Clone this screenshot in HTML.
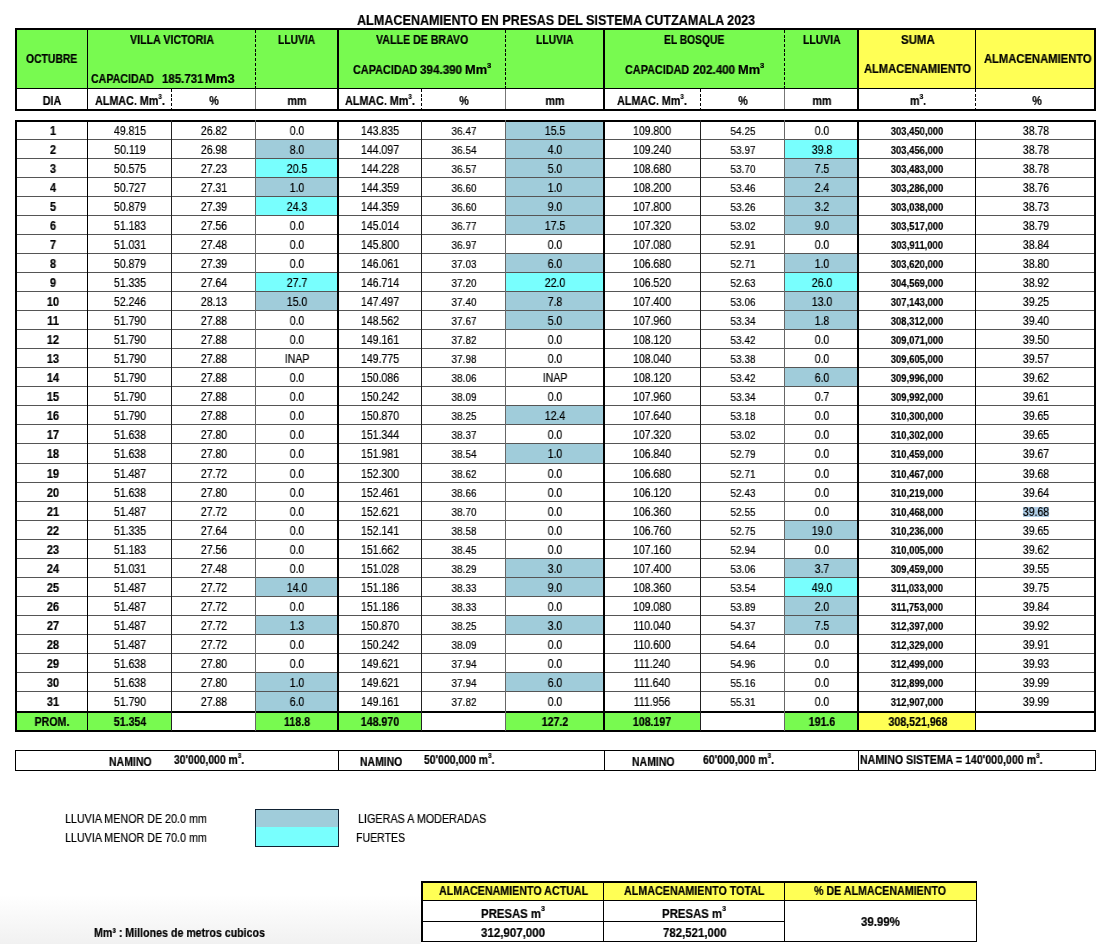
<!DOCTYPE html>
<html><head><meta charset="utf-8"><style>
html,body{margin:0;padding:0;}
body{width:1120px;height:944px;position:relative;overflow:hidden;background:#fff;font-family:"Liberation Sans",sans-serif;}
.bg{position:absolute;left:0;top:895px;width:421px;height:49px;background:linear-gradient(to bottom,#fff 0%,#f1f1f1 100%);}
.b{position:absolute;}
.t{position:absolute;white-space:nowrap;line-height:1;will-change:transform;-webkit-text-stroke:0.2px #000;}
sup{font-size:60%;vertical-align:0;position:relative;top:-0.85em;}
</style></head><body>
<div class="bg"></div>
<div class="t " style="left:357.3px;top:12.00px;font-size:15.0px;font-weight:bold;transform:scaleX(0.8397);transform-origin:left top;color:#000;">ALMACENAMIENTO EN PRESAS DEL SISTEMA CUTZAMALA 2023</div>
<div class="b" style="left:16px;top:30px;width:1078px;height:58px;background:#78FA50;"></div>
<div class="b" style="left:858px;top:30px;width:236px;height:58px;background:#FFFF55;"></div>
<div class="b" style="left:15px;top:28px;width:1081px;height:2px;background:#000;"></div>
<div class="b" style="left:15px;top:88px;width:1081px;height:1px;background:#000;"></div>
<div class="b" style="left:15px;top:109px;width:1081px;height:2px;background:#000;"></div>
<div class="b" style="left:15px;top:28px;width:2px;height:83px;background:#000;"></div>
<div class="b" style="left:1094px;top:28px;width:2px;height:83px;background:#000;"></div>
<div class="b" style="left:87px;top:28px;width:1px;height:83px;background:#000;"></div>
<div class="b" style="left:975px;top:28px;width:1px;height:61px;background:#000;"></div>
<div class="b" style="left:337px;top:28px;width:2px;height:83px;background:#000;"></div>
<div class="b" style="left:603px;top:28px;width:2px;height:83px;background:#000;"></div>
<div class="b" style="left:857px;top:28px;width:2px;height:83px;background:#000;"></div>
<div class="b" style="left:255px;top:30px;width:1px;height:58px;background:repeating-linear-gradient(to bottom,#000 0 3px,transparent 3px 4.7px)"></div>
<div class="b" style="left:505px;top:30px;width:1px;height:58px;background:repeating-linear-gradient(to bottom,#000 0 3px,transparent 3px 4.7px)"></div>
<div class="b" style="left:784px;top:30px;width:1px;height:58px;background:repeating-linear-gradient(to bottom,#000 0 3px,transparent 3px 4.7px)"></div>
<div class="b" style="left:171px;top:89px;width:1px;height:20px;background:repeating-linear-gradient(to bottom,#000 0 3px,transparent 3px 4.7px)"></div>
<div class="b" style="left:421px;top:89px;width:1px;height:20px;background:repeating-linear-gradient(to bottom,#000 0 3px,transparent 3px 4.7px)"></div>
<div class="b" style="left:700px;top:89px;width:1px;height:20px;background:repeating-linear-gradient(to bottom,#000 0 3px,transparent 3px 4.7px)"></div>
<div class="b" style="left:975px;top:89px;width:1px;height:20px;background:repeating-linear-gradient(to bottom,#000 0 3px,transparent 3px 4.7px)"></div>
<div class="b" style="left:255px;top:89px;width:1px;height:20px;background:#777;"></div>
<div class="b" style="left:505px;top:89px;width:1px;height:20px;background:#777;"></div>
<div class="b" style="left:784px;top:89px;width:1px;height:20px;background:#777;"></div>
<div class="t " style="left:26.2px;top:54.00px;font-size:11.9px;font-weight:bold;transform:scaleX(0.872);transform-origin:left top;color:#000;">OCTUBRE</div>
<div class="t " style="left:129.9px;top:35.00px;font-size:11.9px;font-weight:bold;transform:scaleX(0.8958);transform-origin:left top;color:#000;">VILLA VICTORIA</div>
<div class="t " style="left:91.2px;top:74.00px;font-size:11.9px;font-weight:bold;transform:scaleX(0.8934);transform-origin:left top;color:#000;">CAPACIDAD</div>
<div class="t " style="left:161.8px;top:74.00px;font-size:11.9px;font-weight:bold;transform:scaleX(0.9647);transform-origin:left top;color:#000;">185.731</div>
<div class="t " style="left:205.4px;top:74.00px;font-size:11.9px;font-weight:bold;transform:scaleX(1.0993);transform-origin:left top;color:#000;">Mm3</div>
<div class="t " style="left:278.4px;top:35.00px;font-size:11.9px;font-weight:bold;transform:scaleX(0.8657);transform-origin:left top;color:#000;">LLUVIA</div>
<div class="t " style="left:375.8px;top:35.00px;font-size:11.9px;font-weight:bold;transform:scaleX(0.8939);transform-origin:left top;color:#000;">VALLE DE BRAVO</div>
<div class="t " style="left:352.6px;top:65.00px;font-size:11.9px;font-weight:bold;transform:scaleX(0.9132);transform-origin:left top;color:#000;">CAPACIDAD</div>
<div class="t " style="left:420.4px;top:65.00px;font-size:11.9px;font-weight:bold;transform:scaleX(0.981);transform-origin:left top;color:#000;">394.390</div>
<div class="t " style="left:465.4px;top:65.00px;font-size:11.9px;font-weight:bold;transform:scaleX(1.0785);transform-origin:left top;color:#000;">Mm<sup>3</sup></div>
<div class="t " style="left:536.2px;top:35.00px;font-size:11.9px;font-weight:bold;transform:scaleX(0.8727);transform-origin:left top;color:#000;">LLUVIA</div>
<div class="t " style="left:664.2px;top:35.00px;font-size:11.9px;font-weight:bold;transform:scaleX(0.8629);transform-origin:left top;color:#000;">EL BOSQUE</div>
<div class="t " style="left:624.7px;top:65.00px;font-size:11.9px;font-weight:bold;transform:scaleX(0.9118);transform-origin:left top;color:#000;">CAPACIDAD</div>
<div class="t " style="left:692.5px;top:65.00px;font-size:11.9px;font-weight:bold;transform:scaleX(0.981);transform-origin:left top;color:#000;">202.400</div>
<div class="t " style="left:737.5px;top:65.00px;font-size:11.9px;font-weight:bold;transform:scaleX(1.0785);transform-origin:left top;color:#000;">Mm<sup>3</sup></div>
<div class="t " style="left:802.9px;top:35.00px;font-size:11.9px;font-weight:bold;transform:scaleX(0.8773);transform-origin:left top;color:#000;">LLUVIA</div>
<div class="t " style="left:900.6px;top:35.00px;font-size:11.9px;font-weight:bold;transform:scaleX(0.9619);transform-origin:left top;color:#000;">SUMA</div>
<div class="t " style="left:863.7px;top:64.00px;font-size:11.9px;font-weight:bold;transform:scaleX(0.9392);transform-origin:left top;color:#000;">ALMACENAMIENTO</div>
<div class="t " style="left:983.7px;top:54.00px;font-size:11.9px;font-weight:bold;transform:scaleX(0.9435);transform-origin:left top;color:#000;">ALMACENAMIENTO</div>
<div class="t " style="left:52.2px;top:95.00px;font-size:12.5px;font-weight:bold;transform:translateX(-50%) scaleX(0.86);transform-origin:center top;color:#000;">DIA</div>
<div class="t " style="left:130px;top:95.00px;font-size:12.5px;font-weight:bold;transform:translateX(-50%) scaleX(0.86);transform-origin:center top;color:#000;">ALMAC. Mm<sup>3</sup>.</div>
<div class="t " style="left:213.5px;top:95.00px;font-size:12.5px;font-weight:bold;transform:translateX(-50%) scaleX(0.86);transform-origin:center top;color:#000;">%</div>
<div class="t " style="left:296.5px;top:95.00px;font-size:12.5px;font-weight:bold;transform:translateX(-50%) scaleX(0.86);transform-origin:center top;color:#000;">mm</div>
<div class="t " style="left:380px;top:95.00px;font-size:12.5px;font-weight:bold;transform:translateX(-50%) scaleX(0.86);transform-origin:center top;color:#000;">ALMAC. Mm<sup>3</sup>.</div>
<div class="t " style="left:463.5px;top:95.00px;font-size:12.5px;font-weight:bold;transform:translateX(-50%) scaleX(0.86);transform-origin:center top;color:#000;">%</div>
<div class="t " style="left:555px;top:95.00px;font-size:12.5px;font-weight:bold;transform:translateX(-50%) scaleX(0.86);transform-origin:center top;color:#000;">mm</div>
<div class="t " style="left:652px;top:95.00px;font-size:12.5px;font-weight:bold;transform:translateX(-50%) scaleX(0.86);transform-origin:center top;color:#000;">ALMAC. Mm<sup>3</sup>.</div>
<div class="t " style="left:742.5px;top:95.00px;font-size:12.5px;font-weight:bold;transform:translateX(-50%) scaleX(0.86);transform-origin:center top;color:#000;">%</div>
<div class="t " style="left:821.5px;top:95.00px;font-size:12.5px;font-weight:bold;transform:translateX(-50%) scaleX(0.86);transform-origin:center top;color:#000;">mm</div>
<div class="t " style="left:917.5px;top:95.00px;font-size:12.5px;font-weight:bold;transform:translateX(-50%) scaleX(0.86);transform-origin:center top;color:#000;">m<sup>3</sup>.</div>
<div class="t " style="left:1036.5px;top:95.00px;font-size:12.5px;font-weight:bold;transform:translateX(-50%) scaleX(0.86);transform-origin:center top;color:#000;">%</div>
<div class="b" style="left:505px;top:120px;width:98px;height:19px;background:#A0CCDA;"></div>
<div class="b" style="left:255px;top:139px;width:83px;height:19px;background:#A0CCDA;"></div>
<div class="b" style="left:505px;top:139px;width:98px;height:19px;background:#A0CCDA;"></div>
<div class="b" style="left:784px;top:139px;width:74px;height:19px;background:#78FFFE;"></div>
<div class="b" style="left:255px;top:158px;width:83px;height:19px;background:#78FFFE;"></div>
<div class="b" style="left:505px;top:158px;width:98px;height:19px;background:#A0CCDA;"></div>
<div class="b" style="left:784px;top:158px;width:74px;height:19px;background:#A0CCDA;"></div>
<div class="b" style="left:255px;top:177px;width:83px;height:19px;background:#A0CCDA;"></div>
<div class="b" style="left:505px;top:177px;width:98px;height:19px;background:#A0CCDA;"></div>
<div class="b" style="left:784px;top:177px;width:74px;height:19px;background:#A0CCDA;"></div>
<div class="b" style="left:255px;top:196px;width:83px;height:19px;background:#78FFFE;"></div>
<div class="b" style="left:505px;top:196px;width:98px;height:19px;background:#A0CCDA;"></div>
<div class="b" style="left:784px;top:196px;width:74px;height:19px;background:#A0CCDA;"></div>
<div class="b" style="left:505px;top:215px;width:98px;height:19px;background:#A0CCDA;"></div>
<div class="b" style="left:784px;top:215px;width:74px;height:19px;background:#A0CCDA;"></div>
<div class="b" style="left:505px;top:253px;width:98px;height:19px;background:#A0CCDA;"></div>
<div class="b" style="left:784px;top:253px;width:74px;height:19px;background:#A0CCDA;"></div>
<div class="b" style="left:255px;top:272px;width:83px;height:19px;background:#78FFFE;"></div>
<div class="b" style="left:505px;top:272px;width:98px;height:19px;background:#78FFFE;"></div>
<div class="b" style="left:784px;top:272px;width:74px;height:19px;background:#78FFFE;"></div>
<div class="b" style="left:255px;top:291px;width:83px;height:19px;background:#A0CCDA;"></div>
<div class="b" style="left:505px;top:291px;width:98px;height:19px;background:#A0CCDA;"></div>
<div class="b" style="left:784px;top:291px;width:74px;height:19px;background:#A0CCDA;"></div>
<div class="b" style="left:505px;top:310px;width:98px;height:19px;background:#A0CCDA;"></div>
<div class="b" style="left:784px;top:310px;width:74px;height:19px;background:#A0CCDA;"></div>
<div class="b" style="left:784px;top:367px;width:74px;height:19px;background:#A0CCDA;"></div>
<div class="b" style="left:505px;top:405px;width:98px;height:19px;background:#A0CCDA;"></div>
<div class="b" style="left:505px;top:443px;width:98px;height:20px;background:#A0CCDA;"></div>
<div class="b" style="left:784px;top:520px;width:74px;height:19px;background:#A0CCDA;"></div>
<div class="b" style="left:505px;top:558px;width:98px;height:19px;background:#A0CCDA;"></div>
<div class="b" style="left:784px;top:558px;width:74px;height:19px;background:#A0CCDA;"></div>
<div class="b" style="left:255px;top:577px;width:83px;height:19px;background:#A0CCDA;"></div>
<div class="b" style="left:505px;top:577px;width:98px;height:19px;background:#A0CCDA;"></div>
<div class="b" style="left:784px;top:577px;width:74px;height:19px;background:#78FFFE;"></div>
<div class="b" style="left:784px;top:596px;width:74px;height:19px;background:#A0CCDA;"></div>
<div class="b" style="left:255px;top:615px;width:83px;height:19px;background:#A0CCDA;"></div>
<div class="b" style="left:505px;top:615px;width:98px;height:19px;background:#A0CCDA;"></div>
<div class="b" style="left:784px;top:615px;width:74px;height:19px;background:#A0CCDA;"></div>
<div class="b" style="left:255px;top:672px;width:83px;height:19px;background:#A0CCDA;"></div>
<div class="b" style="left:505px;top:672px;width:98px;height:19px;background:#A0CCDA;"></div>
<div class="b" style="left:255px;top:691px;width:83px;height:20px;background:#A0CCDA;"></div>
<div class="b" style="left:16px;top:711px;width:72px;height:20px;background:#78FA50;"></div>
<div class="b" style="left:88px;top:711px;width:83px;height:20px;background:#78FA50;"></div>
<div class="b" style="left:255px;top:711px;width:83px;height:20px;background:#78FA50;"></div>
<div class="b" style="left:338px;top:711px;width:83px;height:20px;background:#78FA50;"></div>
<div class="b" style="left:505px;top:711px;width:98px;height:20px;background:#78FA50;"></div>
<div class="b" style="left:603px;top:711px;width:97px;height:20px;background:#78FA50;"></div>
<div class="b" style="left:784px;top:711px;width:74px;height:20px;background:#78FA50;"></div>
<div class="b" style="left:858px;top:711px;width:118px;height:20px;background:#FFFF55;"></div>
<div class="b" style="left:16px;top:139px;width:1080px;height:1px;background:#555;"></div>
<div class="b" style="left:16px;top:158px;width:1080px;height:1px;background:#555;"></div>
<div class="b" style="left:16px;top:177px;width:1080px;height:1px;background:#555;"></div>
<div class="b" style="left:16px;top:196px;width:1080px;height:1px;background:#555;"></div>
<div class="b" style="left:16px;top:215px;width:1080px;height:1px;background:#555;"></div>
<div class="b" style="left:16px;top:234px;width:1080px;height:1px;background:#555;"></div>
<div class="b" style="left:16px;top:253px;width:1080px;height:1px;background:#555;"></div>
<div class="b" style="left:16px;top:272px;width:1080px;height:1px;background:#555;"></div>
<div class="b" style="left:16px;top:291px;width:1080px;height:1px;background:#555;"></div>
<div class="b" style="left:16px;top:310px;width:1080px;height:1px;background:#555;"></div>
<div class="b" style="left:16px;top:329px;width:1080px;height:1px;background:#555;"></div>
<div class="b" style="left:16px;top:348px;width:1080px;height:1px;background:#555;"></div>
<div class="b" style="left:16px;top:367px;width:1080px;height:1px;background:#555;"></div>
<div class="b" style="left:16px;top:386px;width:1080px;height:1px;background:#555;"></div>
<div class="b" style="left:16px;top:405px;width:1080px;height:1px;background:#555;"></div>
<div class="b" style="left:16px;top:424px;width:1080px;height:1px;background:#555;"></div>
<div class="b" style="left:16px;top:443px;width:1080px;height:1px;background:#555;"></div>
<div class="b" style="left:16px;top:463px;width:1080px;height:1px;background:#555;"></div>
<div class="b" style="left:16px;top:482px;width:1080px;height:1px;background:#555;"></div>
<div class="b" style="left:16px;top:501px;width:1080px;height:1px;background:#555;"></div>
<div class="b" style="left:16px;top:520px;width:1080px;height:1px;background:#555;"></div>
<div class="b" style="left:16px;top:539px;width:1080px;height:1px;background:#555;"></div>
<div class="b" style="left:16px;top:558px;width:1080px;height:1px;background:#555;"></div>
<div class="b" style="left:16px;top:577px;width:1080px;height:1px;background:#555;"></div>
<div class="b" style="left:16px;top:596px;width:1080px;height:1px;background:#555;"></div>
<div class="b" style="left:16px;top:615px;width:1080px;height:1px;background:#555;"></div>
<div class="b" style="left:16px;top:634px;width:1080px;height:1px;background:#555;"></div>
<div class="b" style="left:16px;top:653px;width:1080px;height:1px;background:#555;"></div>
<div class="b" style="left:16px;top:672px;width:1080px;height:1px;background:#555;"></div>
<div class="b" style="left:16px;top:691px;width:1080px;height:1px;background:#555;"></div>
<div class="b" style="left:16px;top:711px;width:1080px;height:2px;background:#000;"></div>
<div class="b" style="left:15px;top:120px;width:1081px;height:2px;background:#000;"></div>
<div class="b" style="left:15px;top:730px;width:1081px;height:2px;background:#000;"></div>
<div class="b" style="left:15px;top:120px;width:2px;height:612px;background:#000;"></div>
<div class="b" style="left:1094px;top:120px;width:2px;height:612px;background:#000;"></div>
<div class="b" style="left:87px;top:120px;width:1px;height:611px;background:#000;"></div>
<div class="b" style="left:171px;top:120px;width:1px;height:611px;background:#222;"></div>
<div class="b" style="left:255px;top:120px;width:1px;height:611px;background:#666;"></div>
<div class="b" style="left:337px;top:120px;width:2px;height:611px;background:#000;"></div>
<div class="b" style="left:421px;top:120px;width:1px;height:611px;background:#222;"></div>
<div class="b" style="left:505px;top:120px;width:1px;height:611px;background:#666;"></div>
<div class="b" style="left:603px;top:120px;width:2px;height:611px;background:#000;"></div>
<div class="b" style="left:700px;top:120px;width:1px;height:611px;background:#222;"></div>
<div class="b" style="left:784px;top:120px;width:1px;height:611px;background:#666;"></div>
<div class="b" style="left:857px;top:120px;width:2px;height:611px;background:#000;"></div>
<div class="b" style="left:975px;top:120px;width:1px;height:611px;background:#000;"></div>
<div class="t " style="left:52.95px;top:125.00px;font-size:12.3px;font-weight:bold;transform:translateX(-50%) scaleX(0.9);transform-origin:center top;color:#000;">1</div>
<div class="t " style="left:129.95px;top:125.00px;font-size:12.4px;font-weight:normal;transform:translateX(-50%) scaleX(0.85);transform-origin:center top;color:#000;">49.815</div>
<div class="t " style="left:213.7px;top:125.00px;font-size:12.4px;font-weight:normal;transform:translateX(-50%) scaleX(0.85);transform-origin:center top;color:#000;">26.82</div>
<div class="t " style="left:296.95px;top:125.00px;font-size:12.4px;font-weight:normal;transform:translateX(-50%) scaleX(0.85);transform-origin:center top;color:#000;">0.0</div>
<div class="t " style="left:379.95px;top:125.00px;font-size:12.4px;font-weight:normal;transform:translateX(-50%) scaleX(0.85);transform-origin:center top;color:#000;">143.835</div>
<div class="t " style="left:464.0px;top:126.00px;font-size:11.8px;font-weight:normal;transform:translateX(-50%) scaleX(0.85);transform-origin:center top;color:#000;">36.47</div>
<div class="t " style="left:554.7px;top:125.00px;font-size:12.4px;font-weight:normal;transform:translateX(-50%) scaleX(0.85);transform-origin:center top;color:#000;">15.5</div>
<div class="t " style="left:652.2px;top:125.00px;font-size:12.4px;font-weight:normal;transform:translateX(-50%) scaleX(0.85);transform-origin:center top;color:#000;">109.800</div>
<div class="t " style="left:743.0px;top:126.00px;font-size:11.8px;font-weight:normal;transform:translateX(-50%) scaleX(0.85);transform-origin:center top;color:#000;">54.25</div>
<div class="t " style="left:821.7px;top:125.00px;font-size:12.4px;font-weight:normal;transform:translateX(-50%) scaleX(0.85);transform-origin:center top;color:#000;">0.0</div>
<div class="t " style="left:917.0px;top:126.00px;font-size:11.8px;font-weight:bold;transform:translateX(-50%) scaleX(0.8);transform-origin:center top;color:#000;">303,450,000</div>
<div class="t " style="left:1036.0px;top:125.00px;font-size:12.4px;font-weight:normal;transform:translateX(-50%) scaleX(0.85);transform-origin:center top;color:#000;">38.78</div>
<div class="t " style="left:52.95px;top:144.00px;font-size:12.3px;font-weight:bold;transform:translateX(-50%) scaleX(0.9);transform-origin:center top;color:#000;">2</div>
<div class="t " style="left:129.95px;top:144.00px;font-size:12.4px;font-weight:normal;transform:translateX(-50%) scaleX(0.85);transform-origin:center top;color:#000;">50.119</div>
<div class="t " style="left:213.7px;top:144.00px;font-size:12.4px;font-weight:normal;transform:translateX(-50%) scaleX(0.85);transform-origin:center top;color:#000;">26.98</div>
<div class="t " style="left:296.95px;top:144.00px;font-size:12.4px;font-weight:normal;transform:translateX(-50%) scaleX(0.85);transform-origin:center top;color:#000;">8.0</div>
<div class="t " style="left:379.95px;top:144.00px;font-size:12.4px;font-weight:normal;transform:translateX(-50%) scaleX(0.85);transform-origin:center top;color:#000;">144.097</div>
<div class="t " style="left:464.0px;top:145.00px;font-size:11.8px;font-weight:normal;transform:translateX(-50%) scaleX(0.85);transform-origin:center top;color:#000;">36.54</div>
<div class="t " style="left:554.7px;top:144.00px;font-size:12.4px;font-weight:normal;transform:translateX(-50%) scaleX(0.85);transform-origin:center top;color:#000;">4.0</div>
<div class="t " style="left:652.2px;top:144.00px;font-size:12.4px;font-weight:normal;transform:translateX(-50%) scaleX(0.85);transform-origin:center top;color:#000;">109.240</div>
<div class="t " style="left:743.0px;top:145.00px;font-size:11.8px;font-weight:normal;transform:translateX(-50%) scaleX(0.85);transform-origin:center top;color:#000;">53.97</div>
<div class="t " style="left:821.7px;top:144.00px;font-size:12.4px;font-weight:normal;transform:translateX(-50%) scaleX(0.85);transform-origin:center top;color:#000;">39.8</div>
<div class="t " style="left:917.0px;top:145.00px;font-size:11.8px;font-weight:bold;transform:translateX(-50%) scaleX(0.8);transform-origin:center top;color:#000;">303,456,000</div>
<div class="t " style="left:1036.0px;top:144.00px;font-size:12.4px;font-weight:normal;transform:translateX(-50%) scaleX(0.85);transform-origin:center top;color:#000;">38.78</div>
<div class="t " style="left:52.95px;top:163.00px;font-size:12.3px;font-weight:bold;transform:translateX(-50%) scaleX(0.9);transform-origin:center top;color:#000;">3</div>
<div class="t " style="left:129.95px;top:163.00px;font-size:12.4px;font-weight:normal;transform:translateX(-50%) scaleX(0.85);transform-origin:center top;color:#000;">50.575</div>
<div class="t " style="left:213.7px;top:163.00px;font-size:12.4px;font-weight:normal;transform:translateX(-50%) scaleX(0.85);transform-origin:center top;color:#000;">27.23</div>
<div class="t " style="left:296.95px;top:163.00px;font-size:12.4px;font-weight:normal;transform:translateX(-50%) scaleX(0.85);transform-origin:center top;color:#000;">20.5</div>
<div class="t " style="left:379.95px;top:163.00px;font-size:12.4px;font-weight:normal;transform:translateX(-50%) scaleX(0.85);transform-origin:center top;color:#000;">144.228</div>
<div class="t " style="left:464.0px;top:164.00px;font-size:11.8px;font-weight:normal;transform:translateX(-50%) scaleX(0.85);transform-origin:center top;color:#000;">36.57</div>
<div class="t " style="left:554.7px;top:163.00px;font-size:12.4px;font-weight:normal;transform:translateX(-50%) scaleX(0.85);transform-origin:center top;color:#000;">5.0</div>
<div class="t " style="left:652.2px;top:163.00px;font-size:12.4px;font-weight:normal;transform:translateX(-50%) scaleX(0.85);transform-origin:center top;color:#000;">108.680</div>
<div class="t " style="left:743.0px;top:164.00px;font-size:11.8px;font-weight:normal;transform:translateX(-50%) scaleX(0.85);transform-origin:center top;color:#000;">53.70</div>
<div class="t " style="left:821.7px;top:163.00px;font-size:12.4px;font-weight:normal;transform:translateX(-50%) scaleX(0.85);transform-origin:center top;color:#000;">7.5</div>
<div class="t " style="left:917.0px;top:164.00px;font-size:11.8px;font-weight:bold;transform:translateX(-50%) scaleX(0.8);transform-origin:center top;color:#000;">303,483,000</div>
<div class="t " style="left:1036.0px;top:163.00px;font-size:12.4px;font-weight:normal;transform:translateX(-50%) scaleX(0.85);transform-origin:center top;color:#000;">38.78</div>
<div class="t " style="left:52.95px;top:182.00px;font-size:12.3px;font-weight:bold;transform:translateX(-50%) scaleX(0.9);transform-origin:center top;color:#000;">4</div>
<div class="t " style="left:129.95px;top:182.00px;font-size:12.4px;font-weight:normal;transform:translateX(-50%) scaleX(0.85);transform-origin:center top;color:#000;">50.727</div>
<div class="t " style="left:213.7px;top:182.00px;font-size:12.4px;font-weight:normal;transform:translateX(-50%) scaleX(0.85);transform-origin:center top;color:#000;">27.31</div>
<div class="t " style="left:296.95px;top:182.00px;font-size:12.4px;font-weight:normal;transform:translateX(-50%) scaleX(0.85);transform-origin:center top;color:#000;">1.0</div>
<div class="t " style="left:379.95px;top:182.00px;font-size:12.4px;font-weight:normal;transform:translateX(-50%) scaleX(0.85);transform-origin:center top;color:#000;">144.359</div>
<div class="t " style="left:464.0px;top:183.00px;font-size:11.8px;font-weight:normal;transform:translateX(-50%) scaleX(0.85);transform-origin:center top;color:#000;">36.60</div>
<div class="t " style="left:554.7px;top:182.00px;font-size:12.4px;font-weight:normal;transform:translateX(-50%) scaleX(0.85);transform-origin:center top;color:#000;">1.0</div>
<div class="t " style="left:652.2px;top:182.00px;font-size:12.4px;font-weight:normal;transform:translateX(-50%) scaleX(0.85);transform-origin:center top;color:#000;">108.200</div>
<div class="t " style="left:743.0px;top:183.00px;font-size:11.8px;font-weight:normal;transform:translateX(-50%) scaleX(0.85);transform-origin:center top;color:#000;">53.46</div>
<div class="t " style="left:821.7px;top:182.00px;font-size:12.4px;font-weight:normal;transform:translateX(-50%) scaleX(0.85);transform-origin:center top;color:#000;">2.4</div>
<div class="t " style="left:917.0px;top:183.00px;font-size:11.8px;font-weight:bold;transform:translateX(-50%) scaleX(0.8);transform-origin:center top;color:#000;">303,286,000</div>
<div class="t " style="left:1036.0px;top:182.00px;font-size:12.4px;font-weight:normal;transform:translateX(-50%) scaleX(0.85);transform-origin:center top;color:#000;">38.76</div>
<div class="t " style="left:52.95px;top:201.00px;font-size:12.3px;font-weight:bold;transform:translateX(-50%) scaleX(0.9);transform-origin:center top;color:#000;">5</div>
<div class="t " style="left:129.95px;top:201.00px;font-size:12.4px;font-weight:normal;transform:translateX(-50%) scaleX(0.85);transform-origin:center top;color:#000;">50.879</div>
<div class="t " style="left:213.7px;top:201.00px;font-size:12.4px;font-weight:normal;transform:translateX(-50%) scaleX(0.85);transform-origin:center top;color:#000;">27.39</div>
<div class="t " style="left:296.95px;top:201.00px;font-size:12.4px;font-weight:normal;transform:translateX(-50%) scaleX(0.85);transform-origin:center top;color:#000;">24.3</div>
<div class="t " style="left:379.95px;top:201.00px;font-size:12.4px;font-weight:normal;transform:translateX(-50%) scaleX(0.85);transform-origin:center top;color:#000;">144.359</div>
<div class="t " style="left:464.0px;top:202.00px;font-size:11.8px;font-weight:normal;transform:translateX(-50%) scaleX(0.85);transform-origin:center top;color:#000;">36.60</div>
<div class="t " style="left:554.7px;top:201.00px;font-size:12.4px;font-weight:normal;transform:translateX(-50%) scaleX(0.85);transform-origin:center top;color:#000;">9.0</div>
<div class="t " style="left:652.2px;top:201.00px;font-size:12.4px;font-weight:normal;transform:translateX(-50%) scaleX(0.85);transform-origin:center top;color:#000;">107.800</div>
<div class="t " style="left:743.0px;top:202.00px;font-size:11.8px;font-weight:normal;transform:translateX(-50%) scaleX(0.85);transform-origin:center top;color:#000;">53.26</div>
<div class="t " style="left:821.7px;top:201.00px;font-size:12.4px;font-weight:normal;transform:translateX(-50%) scaleX(0.85);transform-origin:center top;color:#000;">3.2</div>
<div class="t " style="left:917.0px;top:202.00px;font-size:11.8px;font-weight:bold;transform:translateX(-50%) scaleX(0.8);transform-origin:center top;color:#000;">303,038,000</div>
<div class="t " style="left:1036.0px;top:201.00px;font-size:12.4px;font-weight:normal;transform:translateX(-50%) scaleX(0.85);transform-origin:center top;color:#000;">38.73</div>
<div class="t " style="left:52.95px;top:220.00px;font-size:12.3px;font-weight:bold;transform:translateX(-50%) scaleX(0.9);transform-origin:center top;color:#000;">6</div>
<div class="t " style="left:129.95px;top:220.00px;font-size:12.4px;font-weight:normal;transform:translateX(-50%) scaleX(0.85);transform-origin:center top;color:#000;">51.183</div>
<div class="t " style="left:213.7px;top:220.00px;font-size:12.4px;font-weight:normal;transform:translateX(-50%) scaleX(0.85);transform-origin:center top;color:#000;">27.56</div>
<div class="t " style="left:296.95px;top:220.00px;font-size:12.4px;font-weight:normal;transform:translateX(-50%) scaleX(0.85);transform-origin:center top;color:#000;">0.0</div>
<div class="t " style="left:379.95px;top:220.00px;font-size:12.4px;font-weight:normal;transform:translateX(-50%) scaleX(0.85);transform-origin:center top;color:#000;">145.014</div>
<div class="t " style="left:464.0px;top:221.00px;font-size:11.8px;font-weight:normal;transform:translateX(-50%) scaleX(0.85);transform-origin:center top;color:#000;">36.77</div>
<div class="t " style="left:554.7px;top:220.00px;font-size:12.4px;font-weight:normal;transform:translateX(-50%) scaleX(0.85);transform-origin:center top;color:#000;">17.5</div>
<div class="t " style="left:652.2px;top:220.00px;font-size:12.4px;font-weight:normal;transform:translateX(-50%) scaleX(0.85);transform-origin:center top;color:#000;">107.320</div>
<div class="t " style="left:743.0px;top:221.00px;font-size:11.8px;font-weight:normal;transform:translateX(-50%) scaleX(0.85);transform-origin:center top;color:#000;">53.02</div>
<div class="t " style="left:821.7px;top:220.00px;font-size:12.4px;font-weight:normal;transform:translateX(-50%) scaleX(0.85);transform-origin:center top;color:#000;">9.0</div>
<div class="t " style="left:917.0px;top:221.00px;font-size:11.8px;font-weight:bold;transform:translateX(-50%) scaleX(0.8);transform-origin:center top;color:#000;">303,517,000</div>
<div class="t " style="left:1036.0px;top:220.00px;font-size:12.4px;font-weight:normal;transform:translateX(-50%) scaleX(0.85);transform-origin:center top;color:#000;">38.79</div>
<div class="t " style="left:52.95px;top:239.00px;font-size:12.3px;font-weight:bold;transform:translateX(-50%) scaleX(0.9);transform-origin:center top;color:#000;">7</div>
<div class="t " style="left:129.95px;top:239.00px;font-size:12.4px;font-weight:normal;transform:translateX(-50%) scaleX(0.85);transform-origin:center top;color:#000;">51.031</div>
<div class="t " style="left:213.7px;top:239.00px;font-size:12.4px;font-weight:normal;transform:translateX(-50%) scaleX(0.85);transform-origin:center top;color:#000;">27.48</div>
<div class="t " style="left:296.95px;top:239.00px;font-size:12.4px;font-weight:normal;transform:translateX(-50%) scaleX(0.85);transform-origin:center top;color:#000;">0.0</div>
<div class="t " style="left:379.95px;top:239.00px;font-size:12.4px;font-weight:normal;transform:translateX(-50%) scaleX(0.85);transform-origin:center top;color:#000;">145.800</div>
<div class="t " style="left:464.0px;top:240.00px;font-size:11.8px;font-weight:normal;transform:translateX(-50%) scaleX(0.85);transform-origin:center top;color:#000;">36.97</div>
<div class="t " style="left:554.7px;top:239.00px;font-size:12.4px;font-weight:normal;transform:translateX(-50%) scaleX(0.85);transform-origin:center top;color:#000;">0.0</div>
<div class="t " style="left:652.2px;top:239.00px;font-size:12.4px;font-weight:normal;transform:translateX(-50%) scaleX(0.85);transform-origin:center top;color:#000;">107.080</div>
<div class="t " style="left:743.0px;top:240.00px;font-size:11.8px;font-weight:normal;transform:translateX(-50%) scaleX(0.85);transform-origin:center top;color:#000;">52.91</div>
<div class="t " style="left:821.7px;top:239.00px;font-size:12.4px;font-weight:normal;transform:translateX(-50%) scaleX(0.85);transform-origin:center top;color:#000;">0.0</div>
<div class="t " style="left:917.0px;top:240.00px;font-size:11.8px;font-weight:bold;transform:translateX(-50%) scaleX(0.8);transform-origin:center top;color:#000;">303,911,000</div>
<div class="t " style="left:1036.0px;top:239.00px;font-size:12.4px;font-weight:normal;transform:translateX(-50%) scaleX(0.85);transform-origin:center top;color:#000;">38.84</div>
<div class="t " style="left:52.95px;top:258.00px;font-size:12.3px;font-weight:bold;transform:translateX(-50%) scaleX(0.9);transform-origin:center top;color:#000;">8</div>
<div class="t " style="left:129.95px;top:258.00px;font-size:12.4px;font-weight:normal;transform:translateX(-50%) scaleX(0.85);transform-origin:center top;color:#000;">50.879</div>
<div class="t " style="left:213.7px;top:258.00px;font-size:12.4px;font-weight:normal;transform:translateX(-50%) scaleX(0.85);transform-origin:center top;color:#000;">27.39</div>
<div class="t " style="left:296.95px;top:258.00px;font-size:12.4px;font-weight:normal;transform:translateX(-50%) scaleX(0.85);transform-origin:center top;color:#000;">0.0</div>
<div class="t " style="left:379.95px;top:258.00px;font-size:12.4px;font-weight:normal;transform:translateX(-50%) scaleX(0.85);transform-origin:center top;color:#000;">146.061</div>
<div class="t " style="left:464.0px;top:259.00px;font-size:11.8px;font-weight:normal;transform:translateX(-50%) scaleX(0.85);transform-origin:center top;color:#000;">37.03</div>
<div class="t " style="left:554.7px;top:258.00px;font-size:12.4px;font-weight:normal;transform:translateX(-50%) scaleX(0.85);transform-origin:center top;color:#000;">6.0</div>
<div class="t " style="left:652.2px;top:258.00px;font-size:12.4px;font-weight:normal;transform:translateX(-50%) scaleX(0.85);transform-origin:center top;color:#000;">106.680</div>
<div class="t " style="left:743.0px;top:259.00px;font-size:11.8px;font-weight:normal;transform:translateX(-50%) scaleX(0.85);transform-origin:center top;color:#000;">52.71</div>
<div class="t " style="left:821.7px;top:258.00px;font-size:12.4px;font-weight:normal;transform:translateX(-50%) scaleX(0.85);transform-origin:center top;color:#000;">1.0</div>
<div class="t " style="left:917.0px;top:259.00px;font-size:11.8px;font-weight:bold;transform:translateX(-50%) scaleX(0.8);transform-origin:center top;color:#000;">303,620,000</div>
<div class="t " style="left:1036.0px;top:258.00px;font-size:12.4px;font-weight:normal;transform:translateX(-50%) scaleX(0.85);transform-origin:center top;color:#000;">38.80</div>
<div class="t " style="left:52.95px;top:277.00px;font-size:12.3px;font-weight:bold;transform:translateX(-50%) scaleX(0.9);transform-origin:center top;color:#000;">9</div>
<div class="t " style="left:129.95px;top:277.00px;font-size:12.4px;font-weight:normal;transform:translateX(-50%) scaleX(0.85);transform-origin:center top;color:#000;">51.335</div>
<div class="t " style="left:213.7px;top:277.00px;font-size:12.4px;font-weight:normal;transform:translateX(-50%) scaleX(0.85);transform-origin:center top;color:#000;">27.64</div>
<div class="t " style="left:296.95px;top:277.00px;font-size:12.4px;font-weight:normal;transform:translateX(-50%) scaleX(0.85);transform-origin:center top;color:#000;">27.7</div>
<div class="t " style="left:379.95px;top:277.00px;font-size:12.4px;font-weight:normal;transform:translateX(-50%) scaleX(0.85);transform-origin:center top;color:#000;">146.714</div>
<div class="t " style="left:464.0px;top:278.00px;font-size:11.8px;font-weight:normal;transform:translateX(-50%) scaleX(0.85);transform-origin:center top;color:#000;">37.20</div>
<div class="t " style="left:554.7px;top:277.00px;font-size:12.4px;font-weight:normal;transform:translateX(-50%) scaleX(0.85);transform-origin:center top;color:#000;">22.0</div>
<div class="t " style="left:652.2px;top:277.00px;font-size:12.4px;font-weight:normal;transform:translateX(-50%) scaleX(0.85);transform-origin:center top;color:#000;">106.520</div>
<div class="t " style="left:743.0px;top:278.00px;font-size:11.8px;font-weight:normal;transform:translateX(-50%) scaleX(0.85);transform-origin:center top;color:#000;">52.63</div>
<div class="t " style="left:821.7px;top:277.00px;font-size:12.4px;font-weight:normal;transform:translateX(-50%) scaleX(0.85);transform-origin:center top;color:#000;">26.0</div>
<div class="t " style="left:917.0px;top:278.00px;font-size:11.8px;font-weight:bold;transform:translateX(-50%) scaleX(0.8);transform-origin:center top;color:#000;">304,569,000</div>
<div class="t " style="left:1036.0px;top:277.00px;font-size:12.4px;font-weight:normal;transform:translateX(-50%) scaleX(0.85);transform-origin:center top;color:#000;">38.92</div>
<div class="t " style="left:52.95px;top:296.00px;font-size:12.3px;font-weight:bold;transform:translateX(-50%) scaleX(0.9);transform-origin:center top;color:#000;">10</div>
<div class="t " style="left:129.95px;top:296.00px;font-size:12.4px;font-weight:normal;transform:translateX(-50%) scaleX(0.85);transform-origin:center top;color:#000;">52.246</div>
<div class="t " style="left:213.7px;top:296.00px;font-size:12.4px;font-weight:normal;transform:translateX(-50%) scaleX(0.85);transform-origin:center top;color:#000;">28.13</div>
<div class="t " style="left:296.95px;top:296.00px;font-size:12.4px;font-weight:normal;transform:translateX(-50%) scaleX(0.85);transform-origin:center top;color:#000;">15.0</div>
<div class="t " style="left:379.95px;top:296.00px;font-size:12.4px;font-weight:normal;transform:translateX(-50%) scaleX(0.85);transform-origin:center top;color:#000;">147.497</div>
<div class="t " style="left:464.0px;top:297.00px;font-size:11.8px;font-weight:normal;transform:translateX(-50%) scaleX(0.85);transform-origin:center top;color:#000;">37.40</div>
<div class="t " style="left:554.7px;top:296.00px;font-size:12.4px;font-weight:normal;transform:translateX(-50%) scaleX(0.85);transform-origin:center top;color:#000;">7.8</div>
<div class="t " style="left:652.2px;top:296.00px;font-size:12.4px;font-weight:normal;transform:translateX(-50%) scaleX(0.85);transform-origin:center top;color:#000;">107.400</div>
<div class="t " style="left:743.0px;top:297.00px;font-size:11.8px;font-weight:normal;transform:translateX(-50%) scaleX(0.85);transform-origin:center top;color:#000;">53.06</div>
<div class="t " style="left:821.7px;top:296.00px;font-size:12.4px;font-weight:normal;transform:translateX(-50%) scaleX(0.85);transform-origin:center top;color:#000;">13.0</div>
<div class="t " style="left:917.0px;top:297.00px;font-size:11.8px;font-weight:bold;transform:translateX(-50%) scaleX(0.8);transform-origin:center top;color:#000;">307,143,000</div>
<div class="t " style="left:1036.0px;top:296.00px;font-size:12.4px;font-weight:normal;transform:translateX(-50%) scaleX(0.85);transform-origin:center top;color:#000;">39.25</div>
<div class="t " style="left:52.95px;top:315.00px;font-size:12.3px;font-weight:bold;transform:translateX(-50%) scaleX(0.9);transform-origin:center top;color:#000;">11</div>
<div class="t " style="left:129.95px;top:315.00px;font-size:12.4px;font-weight:normal;transform:translateX(-50%) scaleX(0.85);transform-origin:center top;color:#000;">51.790</div>
<div class="t " style="left:213.7px;top:315.00px;font-size:12.4px;font-weight:normal;transform:translateX(-50%) scaleX(0.85);transform-origin:center top;color:#000;">27.88</div>
<div class="t " style="left:296.95px;top:315.00px;font-size:12.4px;font-weight:normal;transform:translateX(-50%) scaleX(0.85);transform-origin:center top;color:#000;">0.0</div>
<div class="t " style="left:379.95px;top:315.00px;font-size:12.4px;font-weight:normal;transform:translateX(-50%) scaleX(0.85);transform-origin:center top;color:#000;">148.562</div>
<div class="t " style="left:464.0px;top:316.00px;font-size:11.8px;font-weight:normal;transform:translateX(-50%) scaleX(0.85);transform-origin:center top;color:#000;">37.67</div>
<div class="t " style="left:554.7px;top:315.00px;font-size:12.4px;font-weight:normal;transform:translateX(-50%) scaleX(0.85);transform-origin:center top;color:#000;">5.0</div>
<div class="t " style="left:652.2px;top:315.00px;font-size:12.4px;font-weight:normal;transform:translateX(-50%) scaleX(0.85);transform-origin:center top;color:#000;">107.960</div>
<div class="t " style="left:743.0px;top:316.00px;font-size:11.8px;font-weight:normal;transform:translateX(-50%) scaleX(0.85);transform-origin:center top;color:#000;">53.34</div>
<div class="t " style="left:821.7px;top:315.00px;font-size:12.4px;font-weight:normal;transform:translateX(-50%) scaleX(0.85);transform-origin:center top;color:#000;">1.8</div>
<div class="t " style="left:917.0px;top:316.00px;font-size:11.8px;font-weight:bold;transform:translateX(-50%) scaleX(0.8);transform-origin:center top;color:#000;">308,312,000</div>
<div class="t " style="left:1036.0px;top:315.00px;font-size:12.4px;font-weight:normal;transform:translateX(-50%) scaleX(0.85);transform-origin:center top;color:#000;">39.40</div>
<div class="t " style="left:52.95px;top:334.00px;font-size:12.3px;font-weight:bold;transform:translateX(-50%) scaleX(0.9);transform-origin:center top;color:#000;">12</div>
<div class="t " style="left:129.95px;top:334.00px;font-size:12.4px;font-weight:normal;transform:translateX(-50%) scaleX(0.85);transform-origin:center top;color:#000;">51.790</div>
<div class="t " style="left:213.7px;top:334.00px;font-size:12.4px;font-weight:normal;transform:translateX(-50%) scaleX(0.85);transform-origin:center top;color:#000;">27.88</div>
<div class="t " style="left:296.95px;top:334.00px;font-size:12.4px;font-weight:normal;transform:translateX(-50%) scaleX(0.85);transform-origin:center top;color:#000;">0.0</div>
<div class="t " style="left:379.95px;top:334.00px;font-size:12.4px;font-weight:normal;transform:translateX(-50%) scaleX(0.85);transform-origin:center top;color:#000;">149.161</div>
<div class="t " style="left:464.0px;top:335.00px;font-size:11.8px;font-weight:normal;transform:translateX(-50%) scaleX(0.85);transform-origin:center top;color:#000;">37.82</div>
<div class="t " style="left:554.7px;top:334.00px;font-size:12.4px;font-weight:normal;transform:translateX(-50%) scaleX(0.85);transform-origin:center top;color:#000;">0.0</div>
<div class="t " style="left:652.2px;top:334.00px;font-size:12.4px;font-weight:normal;transform:translateX(-50%) scaleX(0.85);transform-origin:center top;color:#000;">108.120</div>
<div class="t " style="left:743.0px;top:335.00px;font-size:11.8px;font-weight:normal;transform:translateX(-50%) scaleX(0.85);transform-origin:center top;color:#000;">53.42</div>
<div class="t " style="left:821.7px;top:334.00px;font-size:12.4px;font-weight:normal;transform:translateX(-50%) scaleX(0.85);transform-origin:center top;color:#000;">0.0</div>
<div class="t " style="left:917.0px;top:335.00px;font-size:11.8px;font-weight:bold;transform:translateX(-50%) scaleX(0.8);transform-origin:center top;color:#000;">309,071,000</div>
<div class="t " style="left:1036.0px;top:334.00px;font-size:12.4px;font-weight:normal;transform:translateX(-50%) scaleX(0.85);transform-origin:center top;color:#000;">39.50</div>
<div class="t " style="left:52.95px;top:353.00px;font-size:12.3px;font-weight:bold;transform:translateX(-50%) scaleX(0.9);transform-origin:center top;color:#000;">13</div>
<div class="t " style="left:129.95px;top:353.00px;font-size:12.4px;font-weight:normal;transform:translateX(-50%) scaleX(0.85);transform-origin:center top;color:#000;">51.790</div>
<div class="t " style="left:213.7px;top:353.00px;font-size:12.4px;font-weight:normal;transform:translateX(-50%) scaleX(0.85);transform-origin:center top;color:#000;">27.88</div>
<div class="t " style="left:296.95px;top:353.00px;font-size:12.4px;font-weight:normal;transform:translateX(-50%) scaleX(0.85);transform-origin:center top;color:#000;">INAP</div>
<div class="t " style="left:379.95px;top:353.00px;font-size:12.4px;font-weight:normal;transform:translateX(-50%) scaleX(0.85);transform-origin:center top;color:#000;">149.775</div>
<div class="t " style="left:464.0px;top:354.00px;font-size:11.8px;font-weight:normal;transform:translateX(-50%) scaleX(0.85);transform-origin:center top;color:#000;">37.98</div>
<div class="t " style="left:554.7px;top:353.00px;font-size:12.4px;font-weight:normal;transform:translateX(-50%) scaleX(0.85);transform-origin:center top;color:#000;">0.0</div>
<div class="t " style="left:652.2px;top:353.00px;font-size:12.4px;font-weight:normal;transform:translateX(-50%) scaleX(0.85);transform-origin:center top;color:#000;">108.040</div>
<div class="t " style="left:743.0px;top:354.00px;font-size:11.8px;font-weight:normal;transform:translateX(-50%) scaleX(0.85);transform-origin:center top;color:#000;">53.38</div>
<div class="t " style="left:821.7px;top:353.00px;font-size:12.4px;font-weight:normal;transform:translateX(-50%) scaleX(0.85);transform-origin:center top;color:#000;">0.0</div>
<div class="t " style="left:917.0px;top:354.00px;font-size:11.8px;font-weight:bold;transform:translateX(-50%) scaleX(0.8);transform-origin:center top;color:#000;">309,605,000</div>
<div class="t " style="left:1036.0px;top:353.00px;font-size:12.4px;font-weight:normal;transform:translateX(-50%) scaleX(0.85);transform-origin:center top;color:#000;">39.57</div>
<div class="t " style="left:52.95px;top:372.00px;font-size:12.3px;font-weight:bold;transform:translateX(-50%) scaleX(0.9);transform-origin:center top;color:#000;">14</div>
<div class="t " style="left:129.95px;top:372.00px;font-size:12.4px;font-weight:normal;transform:translateX(-50%) scaleX(0.85);transform-origin:center top;color:#000;">51.790</div>
<div class="t " style="left:213.7px;top:372.00px;font-size:12.4px;font-weight:normal;transform:translateX(-50%) scaleX(0.85);transform-origin:center top;color:#000;">27.88</div>
<div class="t " style="left:296.95px;top:372.00px;font-size:12.4px;font-weight:normal;transform:translateX(-50%) scaleX(0.85);transform-origin:center top;color:#000;">0.0</div>
<div class="t " style="left:379.95px;top:372.00px;font-size:12.4px;font-weight:normal;transform:translateX(-50%) scaleX(0.85);transform-origin:center top;color:#000;">150.086</div>
<div class="t " style="left:464.0px;top:373.00px;font-size:11.8px;font-weight:normal;transform:translateX(-50%) scaleX(0.85);transform-origin:center top;color:#000;">38.06</div>
<div class="t " style="left:554.7px;top:372.00px;font-size:12.4px;font-weight:normal;transform:translateX(-50%) scaleX(0.85);transform-origin:center top;color:#000;">INAP</div>
<div class="t " style="left:652.2px;top:372.00px;font-size:12.4px;font-weight:normal;transform:translateX(-50%) scaleX(0.85);transform-origin:center top;color:#000;">108.120</div>
<div class="t " style="left:743.0px;top:373.00px;font-size:11.8px;font-weight:normal;transform:translateX(-50%) scaleX(0.85);transform-origin:center top;color:#000;">53.42</div>
<div class="t " style="left:821.7px;top:372.00px;font-size:12.4px;font-weight:normal;transform:translateX(-50%) scaleX(0.85);transform-origin:center top;color:#000;">6.0</div>
<div class="t " style="left:917.0px;top:373.00px;font-size:11.8px;font-weight:bold;transform:translateX(-50%) scaleX(0.8);transform-origin:center top;color:#000;">309,996,000</div>
<div class="t " style="left:1036.0px;top:372.00px;font-size:12.4px;font-weight:normal;transform:translateX(-50%) scaleX(0.85);transform-origin:center top;color:#000;">39.62</div>
<div class="t " style="left:52.95px;top:391.00px;font-size:12.3px;font-weight:bold;transform:translateX(-50%) scaleX(0.9);transform-origin:center top;color:#000;">15</div>
<div class="t " style="left:129.95px;top:391.00px;font-size:12.4px;font-weight:normal;transform:translateX(-50%) scaleX(0.85);transform-origin:center top;color:#000;">51.790</div>
<div class="t " style="left:213.7px;top:391.00px;font-size:12.4px;font-weight:normal;transform:translateX(-50%) scaleX(0.85);transform-origin:center top;color:#000;">27.88</div>
<div class="t " style="left:296.95px;top:391.00px;font-size:12.4px;font-weight:normal;transform:translateX(-50%) scaleX(0.85);transform-origin:center top;color:#000;">0.0</div>
<div class="t " style="left:379.95px;top:391.00px;font-size:12.4px;font-weight:normal;transform:translateX(-50%) scaleX(0.85);transform-origin:center top;color:#000;">150.242</div>
<div class="t " style="left:464.0px;top:392.00px;font-size:11.8px;font-weight:normal;transform:translateX(-50%) scaleX(0.85);transform-origin:center top;color:#000;">38.09</div>
<div class="t " style="left:554.7px;top:391.00px;font-size:12.4px;font-weight:normal;transform:translateX(-50%) scaleX(0.85);transform-origin:center top;color:#000;">0.0</div>
<div class="t " style="left:652.2px;top:391.00px;font-size:12.4px;font-weight:normal;transform:translateX(-50%) scaleX(0.85);transform-origin:center top;color:#000;">107.960</div>
<div class="t " style="left:743.0px;top:392.00px;font-size:11.8px;font-weight:normal;transform:translateX(-50%) scaleX(0.85);transform-origin:center top;color:#000;">53.34</div>
<div class="t " style="left:821.7px;top:391.00px;font-size:12.4px;font-weight:normal;transform:translateX(-50%) scaleX(0.85);transform-origin:center top;color:#000;">0.7</div>
<div class="t " style="left:917.0px;top:392.00px;font-size:11.8px;font-weight:bold;transform:translateX(-50%) scaleX(0.8);transform-origin:center top;color:#000;">309,992,000</div>
<div class="t " style="left:1036.0px;top:391.00px;font-size:12.4px;font-weight:normal;transform:translateX(-50%) scaleX(0.85);transform-origin:center top;color:#000;">39.61</div>
<div class="t " style="left:52.95px;top:410.00px;font-size:12.3px;font-weight:bold;transform:translateX(-50%) scaleX(0.9);transform-origin:center top;color:#000;">16</div>
<div class="t " style="left:129.95px;top:410.00px;font-size:12.4px;font-weight:normal;transform:translateX(-50%) scaleX(0.85);transform-origin:center top;color:#000;">51.790</div>
<div class="t " style="left:213.7px;top:410.00px;font-size:12.4px;font-weight:normal;transform:translateX(-50%) scaleX(0.85);transform-origin:center top;color:#000;">27.88</div>
<div class="t " style="left:296.95px;top:410.00px;font-size:12.4px;font-weight:normal;transform:translateX(-50%) scaleX(0.85);transform-origin:center top;color:#000;">0.0</div>
<div class="t " style="left:379.95px;top:410.00px;font-size:12.4px;font-weight:normal;transform:translateX(-50%) scaleX(0.85);transform-origin:center top;color:#000;">150.870</div>
<div class="t " style="left:464.0px;top:411.00px;font-size:11.8px;font-weight:normal;transform:translateX(-50%) scaleX(0.85);transform-origin:center top;color:#000;">38.25</div>
<div class="t " style="left:554.7px;top:410.00px;font-size:12.4px;font-weight:normal;transform:translateX(-50%) scaleX(0.85);transform-origin:center top;color:#000;">12.4</div>
<div class="t " style="left:652.2px;top:410.00px;font-size:12.4px;font-weight:normal;transform:translateX(-50%) scaleX(0.85);transform-origin:center top;color:#000;">107.640</div>
<div class="t " style="left:743.0px;top:411.00px;font-size:11.8px;font-weight:normal;transform:translateX(-50%) scaleX(0.85);transform-origin:center top;color:#000;">53.18</div>
<div class="t " style="left:821.7px;top:410.00px;font-size:12.4px;font-weight:normal;transform:translateX(-50%) scaleX(0.85);transform-origin:center top;color:#000;">0.0</div>
<div class="t " style="left:917.0px;top:411.00px;font-size:11.8px;font-weight:bold;transform:translateX(-50%) scaleX(0.8);transform-origin:center top;color:#000;">310,300,000</div>
<div class="t " style="left:1036.0px;top:410.00px;font-size:12.4px;font-weight:normal;transform:translateX(-50%) scaleX(0.85);transform-origin:center top;color:#000;">39.65</div>
<div class="t " style="left:52.95px;top:429.00px;font-size:12.3px;font-weight:bold;transform:translateX(-50%) scaleX(0.9);transform-origin:center top;color:#000;">17</div>
<div class="t " style="left:129.95px;top:429.00px;font-size:12.4px;font-weight:normal;transform:translateX(-50%) scaleX(0.85);transform-origin:center top;color:#000;">51.638</div>
<div class="t " style="left:213.7px;top:429.00px;font-size:12.4px;font-weight:normal;transform:translateX(-50%) scaleX(0.85);transform-origin:center top;color:#000;">27.80</div>
<div class="t " style="left:296.95px;top:429.00px;font-size:12.4px;font-weight:normal;transform:translateX(-50%) scaleX(0.85);transform-origin:center top;color:#000;">0.0</div>
<div class="t " style="left:379.95px;top:429.00px;font-size:12.4px;font-weight:normal;transform:translateX(-50%) scaleX(0.85);transform-origin:center top;color:#000;">151.344</div>
<div class="t " style="left:464.0px;top:430.00px;font-size:11.8px;font-weight:normal;transform:translateX(-50%) scaleX(0.85);transform-origin:center top;color:#000;">38.37</div>
<div class="t " style="left:554.7px;top:429.00px;font-size:12.4px;font-weight:normal;transform:translateX(-50%) scaleX(0.85);transform-origin:center top;color:#000;">0.0</div>
<div class="t " style="left:652.2px;top:429.00px;font-size:12.4px;font-weight:normal;transform:translateX(-50%) scaleX(0.85);transform-origin:center top;color:#000;">107.320</div>
<div class="t " style="left:743.0px;top:430.00px;font-size:11.8px;font-weight:normal;transform:translateX(-50%) scaleX(0.85);transform-origin:center top;color:#000;">53.02</div>
<div class="t " style="left:821.7px;top:429.00px;font-size:12.4px;font-weight:normal;transform:translateX(-50%) scaleX(0.85);transform-origin:center top;color:#000;">0.0</div>
<div class="t " style="left:917.0px;top:430.00px;font-size:11.8px;font-weight:bold;transform:translateX(-50%) scaleX(0.8);transform-origin:center top;color:#000;">310,302,000</div>
<div class="t " style="left:1036.0px;top:429.00px;font-size:12.4px;font-weight:normal;transform:translateX(-50%) scaleX(0.85);transform-origin:center top;color:#000;">39.65</div>
<div class="t " style="left:52.95px;top:448.00px;font-size:12.3px;font-weight:bold;transform:translateX(-50%) scaleX(0.9);transform-origin:center top;color:#000;">18</div>
<div class="t " style="left:129.95px;top:448.00px;font-size:12.4px;font-weight:normal;transform:translateX(-50%) scaleX(0.85);transform-origin:center top;color:#000;">51.638</div>
<div class="t " style="left:213.7px;top:448.00px;font-size:12.4px;font-weight:normal;transform:translateX(-50%) scaleX(0.85);transform-origin:center top;color:#000;">27.80</div>
<div class="t " style="left:296.95px;top:448.00px;font-size:12.4px;font-weight:normal;transform:translateX(-50%) scaleX(0.85);transform-origin:center top;color:#000;">0.0</div>
<div class="t " style="left:379.95px;top:448.00px;font-size:12.4px;font-weight:normal;transform:translateX(-50%) scaleX(0.85);transform-origin:center top;color:#000;">151.981</div>
<div class="t " style="left:464.0px;top:449.00px;font-size:11.8px;font-weight:normal;transform:translateX(-50%) scaleX(0.85);transform-origin:center top;color:#000;">38.54</div>
<div class="t " style="left:554.7px;top:448.00px;font-size:12.4px;font-weight:normal;transform:translateX(-50%) scaleX(0.85);transform-origin:center top;color:#000;">1.0</div>
<div class="t " style="left:652.2px;top:448.00px;font-size:12.4px;font-weight:normal;transform:translateX(-50%) scaleX(0.85);transform-origin:center top;color:#000;">106.840</div>
<div class="t " style="left:743.0px;top:449.00px;font-size:11.8px;font-weight:normal;transform:translateX(-50%) scaleX(0.85);transform-origin:center top;color:#000;">52.79</div>
<div class="t " style="left:821.7px;top:448.00px;font-size:12.4px;font-weight:normal;transform:translateX(-50%) scaleX(0.85);transform-origin:center top;color:#000;">0.0</div>
<div class="t " style="left:917.0px;top:449.00px;font-size:11.8px;font-weight:bold;transform:translateX(-50%) scaleX(0.8);transform-origin:center top;color:#000;">310,459,000</div>
<div class="t " style="left:1036.0px;top:448.00px;font-size:12.4px;font-weight:normal;transform:translateX(-50%) scaleX(0.85);transform-origin:center top;color:#000;">39.67</div>
<div class="t " style="left:52.95px;top:468.00px;font-size:12.3px;font-weight:bold;transform:translateX(-50%) scaleX(0.9);transform-origin:center top;color:#000;">19</div>
<div class="t " style="left:129.95px;top:468.00px;font-size:12.4px;font-weight:normal;transform:translateX(-50%) scaleX(0.85);transform-origin:center top;color:#000;">51.487</div>
<div class="t " style="left:213.7px;top:468.00px;font-size:12.4px;font-weight:normal;transform:translateX(-50%) scaleX(0.85);transform-origin:center top;color:#000;">27.72</div>
<div class="t " style="left:296.95px;top:468.00px;font-size:12.4px;font-weight:normal;transform:translateX(-50%) scaleX(0.85);transform-origin:center top;color:#000;">0.0</div>
<div class="t " style="left:379.95px;top:468.00px;font-size:12.4px;font-weight:normal;transform:translateX(-50%) scaleX(0.85);transform-origin:center top;color:#000;">152.300</div>
<div class="t " style="left:464.0px;top:469.00px;font-size:11.8px;font-weight:normal;transform:translateX(-50%) scaleX(0.85);transform-origin:center top;color:#000;">38.62</div>
<div class="t " style="left:554.7px;top:468.00px;font-size:12.4px;font-weight:normal;transform:translateX(-50%) scaleX(0.85);transform-origin:center top;color:#000;">0.0</div>
<div class="t " style="left:652.2px;top:468.00px;font-size:12.4px;font-weight:normal;transform:translateX(-50%) scaleX(0.85);transform-origin:center top;color:#000;">106.680</div>
<div class="t " style="left:743.0px;top:469.00px;font-size:11.8px;font-weight:normal;transform:translateX(-50%) scaleX(0.85);transform-origin:center top;color:#000;">52.71</div>
<div class="t " style="left:821.7px;top:468.00px;font-size:12.4px;font-weight:normal;transform:translateX(-50%) scaleX(0.85);transform-origin:center top;color:#000;">0.0</div>
<div class="t " style="left:917.0px;top:469.00px;font-size:11.8px;font-weight:bold;transform:translateX(-50%) scaleX(0.8);transform-origin:center top;color:#000;">310,467,000</div>
<div class="t " style="left:1036.0px;top:468.00px;font-size:12.4px;font-weight:normal;transform:translateX(-50%) scaleX(0.85);transform-origin:center top;color:#000;">39.68</div>
<div class="t " style="left:52.95px;top:487.00px;font-size:12.3px;font-weight:bold;transform:translateX(-50%) scaleX(0.9);transform-origin:center top;color:#000;">20</div>
<div class="t " style="left:129.95px;top:487.00px;font-size:12.4px;font-weight:normal;transform:translateX(-50%) scaleX(0.85);transform-origin:center top;color:#000;">51.638</div>
<div class="t " style="left:213.7px;top:487.00px;font-size:12.4px;font-weight:normal;transform:translateX(-50%) scaleX(0.85);transform-origin:center top;color:#000;">27.80</div>
<div class="t " style="left:296.95px;top:487.00px;font-size:12.4px;font-weight:normal;transform:translateX(-50%) scaleX(0.85);transform-origin:center top;color:#000;">0.0</div>
<div class="t " style="left:379.95px;top:487.00px;font-size:12.4px;font-weight:normal;transform:translateX(-50%) scaleX(0.85);transform-origin:center top;color:#000;">152.461</div>
<div class="t " style="left:464.0px;top:488.00px;font-size:11.8px;font-weight:normal;transform:translateX(-50%) scaleX(0.85);transform-origin:center top;color:#000;">38.66</div>
<div class="t " style="left:554.7px;top:487.00px;font-size:12.4px;font-weight:normal;transform:translateX(-50%) scaleX(0.85);transform-origin:center top;color:#000;">0.0</div>
<div class="t " style="left:652.2px;top:487.00px;font-size:12.4px;font-weight:normal;transform:translateX(-50%) scaleX(0.85);transform-origin:center top;color:#000;">106.120</div>
<div class="t " style="left:743.0px;top:488.00px;font-size:11.8px;font-weight:normal;transform:translateX(-50%) scaleX(0.85);transform-origin:center top;color:#000;">52.43</div>
<div class="t " style="left:821.7px;top:487.00px;font-size:12.4px;font-weight:normal;transform:translateX(-50%) scaleX(0.85);transform-origin:center top;color:#000;">0.0</div>
<div class="t " style="left:917.0px;top:488.00px;font-size:11.8px;font-weight:bold;transform:translateX(-50%) scaleX(0.8);transform-origin:center top;color:#000;">310,219,000</div>
<div class="t " style="left:1036.0px;top:487.00px;font-size:12.4px;font-weight:normal;transform:translateX(-50%) scaleX(0.85);transform-origin:center top;color:#000;">39.64</div>
<div class="t " style="left:52.95px;top:506.00px;font-size:12.3px;font-weight:bold;transform:translateX(-50%) scaleX(0.9);transform-origin:center top;color:#000;">21</div>
<div class="t " style="left:129.95px;top:506.00px;font-size:12.4px;font-weight:normal;transform:translateX(-50%) scaleX(0.85);transform-origin:center top;color:#000;">51.487</div>
<div class="t " style="left:213.7px;top:506.00px;font-size:12.4px;font-weight:normal;transform:translateX(-50%) scaleX(0.85);transform-origin:center top;color:#000;">27.72</div>
<div class="t " style="left:296.95px;top:506.00px;font-size:12.4px;font-weight:normal;transform:translateX(-50%) scaleX(0.85);transform-origin:center top;color:#000;">0.0</div>
<div class="t " style="left:379.95px;top:506.00px;font-size:12.4px;font-weight:normal;transform:translateX(-50%) scaleX(0.85);transform-origin:center top;color:#000;">152.621</div>
<div class="t " style="left:464.0px;top:507.00px;font-size:11.8px;font-weight:normal;transform:translateX(-50%) scaleX(0.85);transform-origin:center top;color:#000;">38.70</div>
<div class="t " style="left:554.7px;top:506.00px;font-size:12.4px;font-weight:normal;transform:translateX(-50%) scaleX(0.85);transform-origin:center top;color:#000;">0.0</div>
<div class="t " style="left:652.2px;top:506.00px;font-size:12.4px;font-weight:normal;transform:translateX(-50%) scaleX(0.85);transform-origin:center top;color:#000;">106.360</div>
<div class="t " style="left:743.0px;top:507.00px;font-size:11.8px;font-weight:normal;transform:translateX(-50%) scaleX(0.85);transform-origin:center top;color:#000;">52.55</div>
<div class="t " style="left:821.7px;top:506.00px;font-size:12.4px;font-weight:normal;transform:translateX(-50%) scaleX(0.85);transform-origin:center top;color:#000;">0.0</div>
<div class="t " style="left:917.0px;top:507.00px;font-size:11.8px;font-weight:bold;transform:translateX(-50%) scaleX(0.8);transform-origin:center top;color:#000;">310,468,000</div>
<div class="b" style="left:1023px;top:507px;width:26px;height:10px;background:#AFCDE6;"></div>
<div class="t " style="left:1036.0px;top:506.00px;font-size:12.4px;font-weight:normal;transform:translateX(-50%) scaleX(0.85);transform-origin:center top;color:#000;">39.68</div>
<div class="t " style="left:52.95px;top:525.00px;font-size:12.3px;font-weight:bold;transform:translateX(-50%) scaleX(0.9);transform-origin:center top;color:#000;">22</div>
<div class="t " style="left:129.95px;top:525.00px;font-size:12.4px;font-weight:normal;transform:translateX(-50%) scaleX(0.85);transform-origin:center top;color:#000;">51.335</div>
<div class="t " style="left:213.7px;top:525.00px;font-size:12.4px;font-weight:normal;transform:translateX(-50%) scaleX(0.85);transform-origin:center top;color:#000;">27.64</div>
<div class="t " style="left:296.95px;top:525.00px;font-size:12.4px;font-weight:normal;transform:translateX(-50%) scaleX(0.85);transform-origin:center top;color:#000;">0.0</div>
<div class="t " style="left:379.95px;top:525.00px;font-size:12.4px;font-weight:normal;transform:translateX(-50%) scaleX(0.85);transform-origin:center top;color:#000;">152.141</div>
<div class="t " style="left:464.0px;top:526.00px;font-size:11.8px;font-weight:normal;transform:translateX(-50%) scaleX(0.85);transform-origin:center top;color:#000;">38.58</div>
<div class="t " style="left:554.7px;top:525.00px;font-size:12.4px;font-weight:normal;transform:translateX(-50%) scaleX(0.85);transform-origin:center top;color:#000;">0.0</div>
<div class="t " style="left:652.2px;top:525.00px;font-size:12.4px;font-weight:normal;transform:translateX(-50%) scaleX(0.85);transform-origin:center top;color:#000;">106.760</div>
<div class="t " style="left:743.0px;top:526.00px;font-size:11.8px;font-weight:normal;transform:translateX(-50%) scaleX(0.85);transform-origin:center top;color:#000;">52.75</div>
<div class="t " style="left:821.7px;top:525.00px;font-size:12.4px;font-weight:normal;transform:translateX(-50%) scaleX(0.85);transform-origin:center top;color:#000;">19.0</div>
<div class="t " style="left:917.0px;top:526.00px;font-size:11.8px;font-weight:bold;transform:translateX(-50%) scaleX(0.8);transform-origin:center top;color:#000;">310,236,000</div>
<div class="t " style="left:1036.0px;top:525.00px;font-size:12.4px;font-weight:normal;transform:translateX(-50%) scaleX(0.85);transform-origin:center top;color:#000;">39.65</div>
<div class="t " style="left:52.95px;top:544.00px;font-size:12.3px;font-weight:bold;transform:translateX(-50%) scaleX(0.9);transform-origin:center top;color:#000;">23</div>
<div class="t " style="left:129.95px;top:544.00px;font-size:12.4px;font-weight:normal;transform:translateX(-50%) scaleX(0.85);transform-origin:center top;color:#000;">51.183</div>
<div class="t " style="left:213.7px;top:544.00px;font-size:12.4px;font-weight:normal;transform:translateX(-50%) scaleX(0.85);transform-origin:center top;color:#000;">27.56</div>
<div class="t " style="left:296.95px;top:544.00px;font-size:12.4px;font-weight:normal;transform:translateX(-50%) scaleX(0.85);transform-origin:center top;color:#000;">0.0</div>
<div class="t " style="left:379.95px;top:544.00px;font-size:12.4px;font-weight:normal;transform:translateX(-50%) scaleX(0.85);transform-origin:center top;color:#000;">151.662</div>
<div class="t " style="left:464.0px;top:545.00px;font-size:11.8px;font-weight:normal;transform:translateX(-50%) scaleX(0.85);transform-origin:center top;color:#000;">38.45</div>
<div class="t " style="left:554.7px;top:544.00px;font-size:12.4px;font-weight:normal;transform:translateX(-50%) scaleX(0.85);transform-origin:center top;color:#000;">0.0</div>
<div class="t " style="left:652.2px;top:544.00px;font-size:12.4px;font-weight:normal;transform:translateX(-50%) scaleX(0.85);transform-origin:center top;color:#000;">107.160</div>
<div class="t " style="left:743.0px;top:545.00px;font-size:11.8px;font-weight:normal;transform:translateX(-50%) scaleX(0.85);transform-origin:center top;color:#000;">52.94</div>
<div class="t " style="left:821.7px;top:544.00px;font-size:12.4px;font-weight:normal;transform:translateX(-50%) scaleX(0.85);transform-origin:center top;color:#000;">0.0</div>
<div class="t " style="left:917.0px;top:545.00px;font-size:11.8px;font-weight:bold;transform:translateX(-50%) scaleX(0.8);transform-origin:center top;color:#000;">310,005,000</div>
<div class="t " style="left:1036.0px;top:544.00px;font-size:12.4px;font-weight:normal;transform:translateX(-50%) scaleX(0.85);transform-origin:center top;color:#000;">39.62</div>
<div class="t " style="left:52.95px;top:563.00px;font-size:12.3px;font-weight:bold;transform:translateX(-50%) scaleX(0.9);transform-origin:center top;color:#000;">24</div>
<div class="t " style="left:129.95px;top:563.00px;font-size:12.4px;font-weight:normal;transform:translateX(-50%) scaleX(0.85);transform-origin:center top;color:#000;">51.031</div>
<div class="t " style="left:213.7px;top:563.00px;font-size:12.4px;font-weight:normal;transform:translateX(-50%) scaleX(0.85);transform-origin:center top;color:#000;">27.48</div>
<div class="t " style="left:296.95px;top:563.00px;font-size:12.4px;font-weight:normal;transform:translateX(-50%) scaleX(0.85);transform-origin:center top;color:#000;">0.0</div>
<div class="t " style="left:379.95px;top:563.00px;font-size:12.4px;font-weight:normal;transform:translateX(-50%) scaleX(0.85);transform-origin:center top;color:#000;">151.028</div>
<div class="t " style="left:464.0px;top:564.00px;font-size:11.8px;font-weight:normal;transform:translateX(-50%) scaleX(0.85);transform-origin:center top;color:#000;">38.29</div>
<div class="t " style="left:554.7px;top:563.00px;font-size:12.4px;font-weight:normal;transform:translateX(-50%) scaleX(0.85);transform-origin:center top;color:#000;">3.0</div>
<div class="t " style="left:652.2px;top:563.00px;font-size:12.4px;font-weight:normal;transform:translateX(-50%) scaleX(0.85);transform-origin:center top;color:#000;">107.400</div>
<div class="t " style="left:743.0px;top:564.00px;font-size:11.8px;font-weight:normal;transform:translateX(-50%) scaleX(0.85);transform-origin:center top;color:#000;">53.06</div>
<div class="t " style="left:821.7px;top:563.00px;font-size:12.4px;font-weight:normal;transform:translateX(-50%) scaleX(0.85);transform-origin:center top;color:#000;">3.7</div>
<div class="t " style="left:917.0px;top:564.00px;font-size:11.8px;font-weight:bold;transform:translateX(-50%) scaleX(0.8);transform-origin:center top;color:#000;">309,459,000</div>
<div class="t " style="left:1036.0px;top:563.00px;font-size:12.4px;font-weight:normal;transform:translateX(-50%) scaleX(0.85);transform-origin:center top;color:#000;">39.55</div>
<div class="t " style="left:52.95px;top:582.00px;font-size:12.3px;font-weight:bold;transform:translateX(-50%) scaleX(0.9);transform-origin:center top;color:#000;">25</div>
<div class="t " style="left:129.95px;top:582.00px;font-size:12.4px;font-weight:normal;transform:translateX(-50%) scaleX(0.85);transform-origin:center top;color:#000;">51.487</div>
<div class="t " style="left:213.7px;top:582.00px;font-size:12.4px;font-weight:normal;transform:translateX(-50%) scaleX(0.85);transform-origin:center top;color:#000;">27.72</div>
<div class="t " style="left:296.95px;top:582.00px;font-size:12.4px;font-weight:normal;transform:translateX(-50%) scaleX(0.85);transform-origin:center top;color:#000;">14.0</div>
<div class="t " style="left:379.95px;top:582.00px;font-size:12.4px;font-weight:normal;transform:translateX(-50%) scaleX(0.85);transform-origin:center top;color:#000;">151.186</div>
<div class="t " style="left:464.0px;top:583.00px;font-size:11.8px;font-weight:normal;transform:translateX(-50%) scaleX(0.85);transform-origin:center top;color:#000;">38.33</div>
<div class="t " style="left:554.7px;top:582.00px;font-size:12.4px;font-weight:normal;transform:translateX(-50%) scaleX(0.85);transform-origin:center top;color:#000;">9.0</div>
<div class="t " style="left:652.2px;top:582.00px;font-size:12.4px;font-weight:normal;transform:translateX(-50%) scaleX(0.85);transform-origin:center top;color:#000;">108.360</div>
<div class="t " style="left:743.0px;top:583.00px;font-size:11.8px;font-weight:normal;transform:translateX(-50%) scaleX(0.85);transform-origin:center top;color:#000;">53.54</div>
<div class="t " style="left:821.7px;top:582.00px;font-size:12.4px;font-weight:normal;transform:translateX(-50%) scaleX(0.85);transform-origin:center top;color:#000;">49.0</div>
<div class="t " style="left:917.0px;top:583.00px;font-size:11.8px;font-weight:bold;transform:translateX(-50%) scaleX(0.8);transform-origin:center top;color:#000;">311,033,000</div>
<div class="t " style="left:1036.0px;top:582.00px;font-size:12.4px;font-weight:normal;transform:translateX(-50%) scaleX(0.85);transform-origin:center top;color:#000;">39.75</div>
<div class="t " style="left:52.95px;top:601.00px;font-size:12.3px;font-weight:bold;transform:translateX(-50%) scaleX(0.9);transform-origin:center top;color:#000;">26</div>
<div class="t " style="left:129.95px;top:601.00px;font-size:12.4px;font-weight:normal;transform:translateX(-50%) scaleX(0.85);transform-origin:center top;color:#000;">51.487</div>
<div class="t " style="left:213.7px;top:601.00px;font-size:12.4px;font-weight:normal;transform:translateX(-50%) scaleX(0.85);transform-origin:center top;color:#000;">27.72</div>
<div class="t " style="left:296.95px;top:601.00px;font-size:12.4px;font-weight:normal;transform:translateX(-50%) scaleX(0.85);transform-origin:center top;color:#000;">0.0</div>
<div class="t " style="left:379.95px;top:601.00px;font-size:12.4px;font-weight:normal;transform:translateX(-50%) scaleX(0.85);transform-origin:center top;color:#000;">151.186</div>
<div class="t " style="left:464.0px;top:602.00px;font-size:11.8px;font-weight:normal;transform:translateX(-50%) scaleX(0.85);transform-origin:center top;color:#000;">38.33</div>
<div class="t " style="left:554.7px;top:601.00px;font-size:12.4px;font-weight:normal;transform:translateX(-50%) scaleX(0.85);transform-origin:center top;color:#000;">0.0</div>
<div class="t " style="left:652.2px;top:601.00px;font-size:12.4px;font-weight:normal;transform:translateX(-50%) scaleX(0.85);transform-origin:center top;color:#000;">109.080</div>
<div class="t " style="left:743.0px;top:602.00px;font-size:11.8px;font-weight:normal;transform:translateX(-50%) scaleX(0.85);transform-origin:center top;color:#000;">53.89</div>
<div class="t " style="left:821.7px;top:601.00px;font-size:12.4px;font-weight:normal;transform:translateX(-50%) scaleX(0.85);transform-origin:center top;color:#000;">2.0</div>
<div class="t " style="left:917.0px;top:602.00px;font-size:11.8px;font-weight:bold;transform:translateX(-50%) scaleX(0.8);transform-origin:center top;color:#000;">311,753,000</div>
<div class="t " style="left:1036.0px;top:601.00px;font-size:12.4px;font-weight:normal;transform:translateX(-50%) scaleX(0.85);transform-origin:center top;color:#000;">39.84</div>
<div class="t " style="left:52.95px;top:620.00px;font-size:12.3px;font-weight:bold;transform:translateX(-50%) scaleX(0.9);transform-origin:center top;color:#000;">27</div>
<div class="t " style="left:129.95px;top:620.00px;font-size:12.4px;font-weight:normal;transform:translateX(-50%) scaleX(0.85);transform-origin:center top;color:#000;">51.487</div>
<div class="t " style="left:213.7px;top:620.00px;font-size:12.4px;font-weight:normal;transform:translateX(-50%) scaleX(0.85);transform-origin:center top;color:#000;">27.72</div>
<div class="t " style="left:296.95px;top:620.00px;font-size:12.4px;font-weight:normal;transform:translateX(-50%) scaleX(0.85);transform-origin:center top;color:#000;">1.3</div>
<div class="t " style="left:379.95px;top:620.00px;font-size:12.4px;font-weight:normal;transform:translateX(-50%) scaleX(0.85);transform-origin:center top;color:#000;">150.870</div>
<div class="t " style="left:464.0px;top:621.00px;font-size:11.8px;font-weight:normal;transform:translateX(-50%) scaleX(0.85);transform-origin:center top;color:#000;">38.25</div>
<div class="t " style="left:554.7px;top:620.00px;font-size:12.4px;font-weight:normal;transform:translateX(-50%) scaleX(0.85);transform-origin:center top;color:#000;">3.0</div>
<div class="t " style="left:652.2px;top:620.00px;font-size:12.4px;font-weight:normal;transform:translateX(-50%) scaleX(0.85);transform-origin:center top;color:#000;">110.040</div>
<div class="t " style="left:743.0px;top:621.00px;font-size:11.8px;font-weight:normal;transform:translateX(-50%) scaleX(0.85);transform-origin:center top;color:#000;">54.37</div>
<div class="t " style="left:821.7px;top:620.00px;font-size:12.4px;font-weight:normal;transform:translateX(-50%) scaleX(0.85);transform-origin:center top;color:#000;">7.5</div>
<div class="t " style="left:917.0px;top:621.00px;font-size:11.8px;font-weight:bold;transform:translateX(-50%) scaleX(0.8);transform-origin:center top;color:#000;">312,397,000</div>
<div class="t " style="left:1036.0px;top:620.00px;font-size:12.4px;font-weight:normal;transform:translateX(-50%) scaleX(0.85);transform-origin:center top;color:#000;">39.92</div>
<div class="t " style="left:52.95px;top:639.00px;font-size:12.3px;font-weight:bold;transform:translateX(-50%) scaleX(0.9);transform-origin:center top;color:#000;">28</div>
<div class="t " style="left:129.95px;top:639.00px;font-size:12.4px;font-weight:normal;transform:translateX(-50%) scaleX(0.85);transform-origin:center top;color:#000;">51.487</div>
<div class="t " style="left:213.7px;top:639.00px;font-size:12.4px;font-weight:normal;transform:translateX(-50%) scaleX(0.85);transform-origin:center top;color:#000;">27.72</div>
<div class="t " style="left:296.95px;top:639.00px;font-size:12.4px;font-weight:normal;transform:translateX(-50%) scaleX(0.85);transform-origin:center top;color:#000;">0.0</div>
<div class="t " style="left:379.95px;top:639.00px;font-size:12.4px;font-weight:normal;transform:translateX(-50%) scaleX(0.85);transform-origin:center top;color:#000;">150.242</div>
<div class="t " style="left:464.0px;top:640.00px;font-size:11.8px;font-weight:normal;transform:translateX(-50%) scaleX(0.85);transform-origin:center top;color:#000;">38.09</div>
<div class="t " style="left:554.7px;top:639.00px;font-size:12.4px;font-weight:normal;transform:translateX(-50%) scaleX(0.85);transform-origin:center top;color:#000;">0.0</div>
<div class="t " style="left:652.2px;top:639.00px;font-size:12.4px;font-weight:normal;transform:translateX(-50%) scaleX(0.85);transform-origin:center top;color:#000;">110.600</div>
<div class="t " style="left:743.0px;top:640.00px;font-size:11.8px;font-weight:normal;transform:translateX(-50%) scaleX(0.85);transform-origin:center top;color:#000;">54.64</div>
<div class="t " style="left:821.7px;top:639.00px;font-size:12.4px;font-weight:normal;transform:translateX(-50%) scaleX(0.85);transform-origin:center top;color:#000;">0.0</div>
<div class="t " style="left:917.0px;top:640.00px;font-size:11.8px;font-weight:bold;transform:translateX(-50%) scaleX(0.8);transform-origin:center top;color:#000;">312,329,000</div>
<div class="t " style="left:1036.0px;top:639.00px;font-size:12.4px;font-weight:normal;transform:translateX(-50%) scaleX(0.85);transform-origin:center top;color:#000;">39.91</div>
<div class="t " style="left:52.95px;top:658.00px;font-size:12.3px;font-weight:bold;transform:translateX(-50%) scaleX(0.9);transform-origin:center top;color:#000;">29</div>
<div class="t " style="left:129.95px;top:658.00px;font-size:12.4px;font-weight:normal;transform:translateX(-50%) scaleX(0.85);transform-origin:center top;color:#000;">51.638</div>
<div class="t " style="left:213.7px;top:658.00px;font-size:12.4px;font-weight:normal;transform:translateX(-50%) scaleX(0.85);transform-origin:center top;color:#000;">27.80</div>
<div class="t " style="left:296.95px;top:658.00px;font-size:12.4px;font-weight:normal;transform:translateX(-50%) scaleX(0.85);transform-origin:center top;color:#000;">0.0</div>
<div class="t " style="left:379.95px;top:658.00px;font-size:12.4px;font-weight:normal;transform:translateX(-50%) scaleX(0.85);transform-origin:center top;color:#000;">149.621</div>
<div class="t " style="left:464.0px;top:659.00px;font-size:11.8px;font-weight:normal;transform:translateX(-50%) scaleX(0.85);transform-origin:center top;color:#000;">37.94</div>
<div class="t " style="left:554.7px;top:658.00px;font-size:12.4px;font-weight:normal;transform:translateX(-50%) scaleX(0.85);transform-origin:center top;color:#000;">0.0</div>
<div class="t " style="left:652.2px;top:658.00px;font-size:12.4px;font-weight:normal;transform:translateX(-50%) scaleX(0.85);transform-origin:center top;color:#000;">111.240</div>
<div class="t " style="left:743.0px;top:659.00px;font-size:11.8px;font-weight:normal;transform:translateX(-50%) scaleX(0.85);transform-origin:center top;color:#000;">54.96</div>
<div class="t " style="left:821.7px;top:658.00px;font-size:12.4px;font-weight:normal;transform:translateX(-50%) scaleX(0.85);transform-origin:center top;color:#000;">0.0</div>
<div class="t " style="left:917.0px;top:659.00px;font-size:11.8px;font-weight:bold;transform:translateX(-50%) scaleX(0.8);transform-origin:center top;color:#000;">312,499,000</div>
<div class="t " style="left:1036.0px;top:658.00px;font-size:12.4px;font-weight:normal;transform:translateX(-50%) scaleX(0.85);transform-origin:center top;color:#000;">39.93</div>
<div class="t " style="left:52.95px;top:677.00px;font-size:12.3px;font-weight:bold;transform:translateX(-50%) scaleX(0.9);transform-origin:center top;color:#000;">30</div>
<div class="t " style="left:129.95px;top:677.00px;font-size:12.4px;font-weight:normal;transform:translateX(-50%) scaleX(0.85);transform-origin:center top;color:#000;">51.638</div>
<div class="t " style="left:213.7px;top:677.00px;font-size:12.4px;font-weight:normal;transform:translateX(-50%) scaleX(0.85);transform-origin:center top;color:#000;">27.80</div>
<div class="t " style="left:296.95px;top:677.00px;font-size:12.4px;font-weight:normal;transform:translateX(-50%) scaleX(0.85);transform-origin:center top;color:#000;">1.0</div>
<div class="t " style="left:379.95px;top:677.00px;font-size:12.4px;font-weight:normal;transform:translateX(-50%) scaleX(0.85);transform-origin:center top;color:#000;">149.621</div>
<div class="t " style="left:464.0px;top:678.00px;font-size:11.8px;font-weight:normal;transform:translateX(-50%) scaleX(0.85);transform-origin:center top;color:#000;">37.94</div>
<div class="t " style="left:554.7px;top:677.00px;font-size:12.4px;font-weight:normal;transform:translateX(-50%) scaleX(0.85);transform-origin:center top;color:#000;">6.0</div>
<div class="t " style="left:652.2px;top:677.00px;font-size:12.4px;font-weight:normal;transform:translateX(-50%) scaleX(0.85);transform-origin:center top;color:#000;">111.640</div>
<div class="t " style="left:743.0px;top:678.00px;font-size:11.8px;font-weight:normal;transform:translateX(-50%) scaleX(0.85);transform-origin:center top;color:#000;">55.16</div>
<div class="t " style="left:821.7px;top:677.00px;font-size:12.4px;font-weight:normal;transform:translateX(-50%) scaleX(0.85);transform-origin:center top;color:#000;">0.0</div>
<div class="t " style="left:917.0px;top:678.00px;font-size:11.8px;font-weight:bold;transform:translateX(-50%) scaleX(0.8);transform-origin:center top;color:#000;">312,899,000</div>
<div class="t " style="left:1036.0px;top:677.00px;font-size:12.4px;font-weight:normal;transform:translateX(-50%) scaleX(0.85);transform-origin:center top;color:#000;">39.99</div>
<div class="t " style="left:52.95px;top:696.00px;font-size:12.3px;font-weight:bold;transform:translateX(-50%) scaleX(0.9);transform-origin:center top;color:#000;">31</div>
<div class="t " style="left:129.95px;top:696.00px;font-size:12.4px;font-weight:normal;transform:translateX(-50%) scaleX(0.85);transform-origin:center top;color:#000;">51.790</div>
<div class="t " style="left:213.7px;top:696.00px;font-size:12.4px;font-weight:normal;transform:translateX(-50%) scaleX(0.85);transform-origin:center top;color:#000;">27.88</div>
<div class="t " style="left:296.95px;top:696.00px;font-size:12.4px;font-weight:normal;transform:translateX(-50%) scaleX(0.85);transform-origin:center top;color:#000;">6.0</div>
<div class="t " style="left:379.95px;top:696.00px;font-size:12.4px;font-weight:normal;transform:translateX(-50%) scaleX(0.85);transform-origin:center top;color:#000;">149.161</div>
<div class="t " style="left:464.0px;top:697.00px;font-size:11.8px;font-weight:normal;transform:translateX(-50%) scaleX(0.85);transform-origin:center top;color:#000;">37.82</div>
<div class="t " style="left:554.7px;top:696.00px;font-size:12.4px;font-weight:normal;transform:translateX(-50%) scaleX(0.85);transform-origin:center top;color:#000;">0.0</div>
<div class="t " style="left:652.2px;top:696.00px;font-size:12.4px;font-weight:normal;transform:translateX(-50%) scaleX(0.85);transform-origin:center top;color:#000;">111.956</div>
<div class="t " style="left:743.0px;top:697.00px;font-size:11.8px;font-weight:normal;transform:translateX(-50%) scaleX(0.85);transform-origin:center top;color:#000;">55.31</div>
<div class="t " style="left:821.7px;top:696.00px;font-size:12.4px;font-weight:normal;transform:translateX(-50%) scaleX(0.85);transform-origin:center top;color:#000;">0.0</div>
<div class="t " style="left:917.0px;top:697.00px;font-size:11.8px;font-weight:bold;transform:translateX(-50%) scaleX(0.8);transform-origin:center top;color:#000;">312,907,000</div>
<div class="t " style="left:1036.0px;top:696.00px;font-size:12.4px;font-weight:normal;transform:translateX(-50%) scaleX(0.85);transform-origin:center top;color:#000;">39.99</div>
<div class="t " style="left:52.45px;top:716.00px;font-size:12.5px;font-weight:bold;transform:translateX(-50%) scaleX(0.85);transform-origin:center top;color:#000;">PROM.</div>
<div class="t " style="left:129.95px;top:716.00px;font-size:12.5px;font-weight:bold;transform:translateX(-50%) scaleX(0.85);transform-origin:center top;color:#000;">51.354</div>
<div class="t " style="left:296.95px;top:716.00px;font-size:12.5px;font-weight:bold;transform:translateX(-50%) scaleX(0.85);transform-origin:center top;color:#000;">118.8</div>
<div class="t " style="left:379.95px;top:716.00px;font-size:12.5px;font-weight:bold;transform:translateX(-50%) scaleX(0.85);transform-origin:center top;color:#000;">148.970</div>
<div class="t " style="left:554.7px;top:716.00px;font-size:12.5px;font-weight:bold;transform:translateX(-50%) scaleX(0.85);transform-origin:center top;color:#000;">127.2</div>
<div class="t " style="left:652.2px;top:716.00px;font-size:12.5px;font-weight:bold;transform:translateX(-50%) scaleX(0.85);transform-origin:center top;color:#000;">108.197</div>
<div class="t " style="left:821.7px;top:716.00px;font-size:12.5px;font-weight:bold;transform:translateX(-50%) scaleX(0.85);transform-origin:center top;color:#000;">191.6</div>
<div class="t " style="left:917.7px;top:716.00px;font-size:12.5px;font-weight:bold;transform:translateX(-50%) scaleX(0.85);transform-origin:center top;color:#000;">308,521,968</div>
<div class="b" style="left:15px;top:750px;width:1082px;height:21px;background:transparent;border:1px solid #000;box-sizing:border-box;width:1081px"></div>
<div class="b" style="left:338px;top:750px;width:1px;height:21px;background:#000;"></div>
<div class="b" style="left:604px;top:750px;width:1px;height:21px;background:#000;"></div>
<div class="b" style="left:858px;top:750px;width:1px;height:21px;background:#000;"></div>
<div class="t " style="left:109.4px;top:757.00px;font-size:11.9px;font-weight:bold;transform:scaleX(0.8828);transform-origin:left top;color:#000;">NAMINO</div>
<div class="t " style="left:359.5px;top:757.00px;font-size:11.9px;font-weight:bold;transform:scaleX(0.8756);transform-origin:left top;color:#000;">NAMINO</div>
<div class="t " style="left:631.75px;top:757.00px;font-size:11.9px;font-weight:bold;transform:scaleX(0.8807);transform-origin:left top;color:#000;">NAMINO</div>
<div class="t " style="left:174.4px;top:755.00px;font-size:11.9px;font-weight:bold;transform:scaleX(0.8743);transform-origin:left top;color:#000;">30'000,000 m<sup>3</sup>.</div>
<div class="t " style="left:424.25px;top:755.00px;font-size:11.9px;font-weight:bold;transform:scaleX(0.8777);transform-origin:left top;color:#000;">50'000,000 m<sup>3</sup>.</div>
<div class="t " style="left:703.25px;top:755.00px;font-size:11.9px;font-weight:bold;transform:scaleX(0.8846);transform-origin:left top;color:#000;">60'000,000 m<sup>3</sup>.</div>
<div class="t " style="left:860.4px;top:755.00px;font-size:11.9px;font-weight:bold;transform:scaleX(0.8937);transform-origin:left top;color:#000;">NAMINO SISTEMA = 140'000,000 m<sup>3</sup>.</div>
<div class="t " style="left:65.2px;top:813.00px;font-size:12.3px;font-weight:normal;transform:scaleX(0.8717);transform-origin:left top;color:#000;">LLUVIA MENOR DE 20.0 mm</div>
<div class="t " style="left:65.2px;top:832.00px;font-size:12.3px;font-weight:normal;transform:scaleX(0.8717);transform-origin:left top;color:#000;">LLUVIA MENOR DE 70.0 mm</div>
<div class="b" style="left:255px;top:809px;width:84px;height:19px;background:#A0CCDA;"></div>
<div class="b" style="left:255px;top:827px;width:84px;height:20px;background:#78FFFE;"></div>
<div class="b" style="left:255px;top:809px;width:84px;height:38px;background:transparent;border:1px solid #123;box-sizing:border-box"></div>
<div class="t " style="left:357.6px;top:813.00px;font-size:12.3px;font-weight:normal;transform:scaleX(0.8777);transform-origin:left top;color:#000;">LIGERAS A MODERADAS</div>
<div class="t " style="left:356.2px;top:832.00px;font-size:12.3px;font-weight:normal;transform:scaleX(0.8587);transform-origin:left top;color:#000;">FUERTES</div>
<div class="b" style="left:421px;top:881px;width:556px;height:19px;background:#FFFF55;"></div>
<div class="b" style="left:421px;top:881px;width:556px;height:1px;background:#000;"></div>
<div class="b" style="left:421px;top:882px;width:556px;height:1px;background:#000;"></div>
<div class="b" style="left:421px;top:900px;width:556px;height:1px;background:#000;"></div>
<div class="b" style="left:421px;top:921px;width:363px;height:1px;background:#000;"></div>
<div class="b" style="left:421px;top:941px;width:556px;height:1px;background:#000;"></div>
<div class="b" style="left:421px;top:881px;width:1px;height:61px;background:#000;"></div>
<div class="b" style="left:422px;top:881px;width:1px;height:61px;background:#000;"></div>
<div class="b" style="left:976px;top:881px;width:1px;height:61px;background:#000;"></div>
<div class="b" style="left:603px;top:881px;width:1px;height:61px;background:#000;"></div>
<div class="b" style="left:784px;top:881px;width:1px;height:61px;background:#000;"></div>
<div class="t " style="left:438.5px;top:885.00px;font-size:12.2px;font-weight:bold;transform:scaleX(0.8777);transform-origin:left top;color:#000;">ALMACENAMIENTO ACTUAL</div>
<div class="t " style="left:624.3px;top:885.00px;font-size:12.2px;font-weight:bold;transform:scaleX(0.8791);transform-origin:left top;color:#000;">ALMACENAMIENTO TOTAL</div>
<div class="t " style="left:814.2px;top:885.00px;font-size:12.2px;font-weight:bold;transform:scaleX(0.8747);transform-origin:left top;color:#000;">% DE ALMACENAMIENTO</div>
<div class="t " style="left:481.25px;top:907.00px;font-size:13.0px;font-weight:bold;transform:scaleX(0.8743);transform-origin:left top;color:#000;">PRESAS m<sup>3</sup></div>
<div class="t " style="left:662.4px;top:907.00px;font-size:13.0px;font-weight:bold;transform:scaleX(0.8757);transform-origin:left top;color:#000;">PRESAS m<sup>3</sup></div>
<div class="t " style="left:480.9px;top:926.00px;font-size:13.0px;font-weight:bold;transform:scaleX(0.8867);transform-origin:left top;color:#000;">312,907,000</div>
<div class="t " style="left:662.8px;top:926.00px;font-size:13.0px;font-weight:bold;transform:scaleX(0.8798);transform-origin:left top;color:#000;">782,521,000</div>
<div class="t " style="left:860.8px;top:915.00px;font-size:13.0px;font-weight:bold;transform:scaleX(0.8822);transform-origin:left top;color:#000;">39.99%</div>
<div class="t " style="left:93.5px;top:927.00px;font-size:12.6px;font-weight:bold;transform:scaleX(0.8452);transform-origin:left top;color:#000;">Mm³ : Millones de metros cubicos</div>
</body></html>
